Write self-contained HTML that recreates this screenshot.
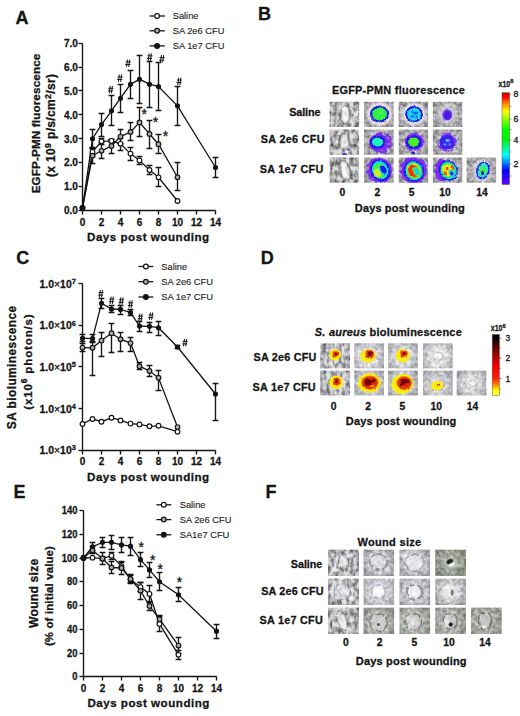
<!DOCTYPE html><html><head><meta charset="utf-8"><style>html,body{margin:0;padding:0;background:#fff;}svg{display:block;}text{font-family:"Liberation Sans",sans-serif;stroke:#141414;stroke-width:0.28px;paint-order:stroke;}</style></head><body>
<svg width="520" height="716" viewBox="0 0 520 716">
<defs>
<filter id="txA" x="0" y="0" width="100%" height="100%" color-interpolation-filters="sRGB"><feTurbulence type="fractalNoise" baseFrequency="0.26 0.18" numOctaves="3" seed="3"/><feColorMatrix type="matrix" values="2.0 0 0 0 -0.3  2.0 0 0 0 -0.3  2.0 0 0 0 -0.3  0 0 0 0 1"/><feGaussianBlur stdDeviation="0.5"/></filter>
<filter id="txB" x="0" y="0" width="100%" height="100%" color-interpolation-filters="sRGB"><feTurbulence type="fractalNoise" baseFrequency="0.3" numOctaves="2" seed="11"/><feColorMatrix type="matrix" values="1.4 0 0 0 -0.08  1.4 0 0 0 -0.08  1.4 0 0 0 -0.08  0 0 0 0 1"/><feGaussianBlur stdDeviation="0.45"/></filter>
<filter id="txC" x="0" y="0" width="100%" height="100%" color-interpolation-filters="sRGB"><feTurbulence type="fractalNoise" baseFrequency="0.28" numOctaves="3" seed="21"/><feColorMatrix type="matrix" values="1.4 0 0 0 -0.08  1.4 0 0 0 -0.08  1.4 0 0 0 -0.08  0 0 0 0 1"/><feGaussianBlur stdDeviation="0.45"/></filter>
<filter id="rough" x="-30%" y="-30%" width="160%" height="160%"><feTurbulence type="fractalNoise" baseFrequency="0.45" numOctaves="2" seed="5" result="n"/><feDisplacementMap in="SourceGraphic" in2="n" scale="2.6" xChannelSelector="R" yChannelSelector="G"/><feGaussianBlur stdDeviation="0.35"/></filter>
<filter id="rough2" x="-30%" y="-30%" width="160%" height="160%"><feTurbulence type="fractalNoise" baseFrequency="0.4" numOctaves="2" seed="9" result="n"/><feDisplacementMap in="SourceGraphic" in2="n" scale="2.4" xChannelSelector="R" yChannelSelector="G"/><feGaussianBlur stdDeviation="0.45"/></filter>
<filter id="patch" x="-30%" y="-30%" width="160%" height="160%"><feTurbulence type="fractalNoise" baseFrequency="0.3" numOctaves="2" seed="15" result="n"/><feDisplacementMap in="SourceGraphic" in2="n" scale="4" xChannelSelector="R" yChannelSelector="G" result="d"/><feTurbulence type="fractalNoise" baseFrequency="0.22" numOctaves="1" seed="4" result="m"/><feColorMatrix in="m" type="matrix" values="0 0 0 0 0  0 0 0 0 0  0 0 0 0 0  0 0 0 9 -3.25" result="mm"/><feComposite in="d" in2="mm" operator="in"/><feGaussianBlur stdDeviation="0.3"/></filter>
<filter id="rough3" x="-30%" y="-30%" width="160%" height="160%"><feTurbulence type="fractalNoise" baseFrequency="0.25" numOctaves="2" seed="19" result="n"/><feDisplacementMap in="SourceGraphic" in2="n" scale="2.2" xChannelSelector="R" yChannelSelector="G"/><feGaussianBlur stdDeviation="0.5"/></filter>
<filter id="rough4" x="-30%" y="-30%" width="160%" height="160%"><feTurbulence type="fractalNoise" baseFrequency="0.18" numOctaves="2" seed="23" result="n"/><feDisplacementMap in="SourceGraphic" in2="n" scale="3.2" xChannelSelector="R" yChannelSelector="G"/><feGaussianBlur stdDeviation="0.55"/></filter>
<filter id="blur05" x="-50%" y="-50%" width="200%" height="200%"><feGaussianBlur stdDeviation="0.5"/></filter>
<filter id="blur1" x="-50%" y="-50%" width="200%" height="200%"><feGaussianBlur stdDeviation="0.9"/></filter>
<filter id="blur2" x="-50%" y="-50%" width="200%" height="200%"><feGaussianBlur stdDeviation="2"/></filter>
<linearGradient id="cbB" x1="0" y1="0" x2="0" y2="1"><stop offset="0" stop-color="#c00000"/><stop offset="0.05" stop-color="#ff0000"/><stop offset="0.115" stop-color="#ff8000"/><stop offset="0.205" stop-color="#ffff00"/><stop offset="0.30" stop-color="#80ff00"/><stop offset="0.40" stop-color="#00ff00"/><stop offset="0.50" stop-color="#00f000"/><stop offset="0.68" stop-color="#00ffff"/><stop offset="0.85" stop-color="#0000ff"/><stop offset="1" stop-color="#6000ff"/></linearGradient>
<linearGradient id="cbD" x1="0" y1="0" x2="0" y2="1"><stop offset="0" stop-color="#000000"/><stop offset="0.08" stop-color="#100000"/><stop offset="0.3" stop-color="#900000"/><stop offset="0.5" stop-color="#f00000"/><stop offset="0.72" stop-color="#ff2000"/><stop offset="0.82" stop-color="#ff8000"/><stop offset="0.92" stop-color="#ffff00"/><stop offset="1" stop-color="#ffff30"/></linearGradient>
</defs>
<text x="15.60" y="24.20" font-size="18" font-weight="bold" text-anchor="start" fill="#141414" >A</text>
<text x="258.00" y="20.20" font-size="18" font-weight="bold" text-anchor="start" fill="#141414" >B</text>
<text x="16.20" y="263.80" font-size="18" font-weight="bold" text-anchor="start" fill="#141414" >C</text>
<text x="260.80" y="263.80" font-size="18" font-weight="bold" text-anchor="start" fill="#141414" >D</text>
<text x="13.60" y="498.30" font-size="18" font-weight="bold" text-anchor="start" fill="#141414" >E</text>
<text x="265.40" y="498.40" font-size="18" font-weight="bold" text-anchor="start" fill="#141414" >F</text>
<g stroke="#141414" stroke-width="1.35" fill="none" stroke-linecap="butt">
<path d="M82.50,43.50 V210.50 H215.50"/>
<path d="M78.50,210.50 H82.50"/>
<path d="M78.50,186.50 H82.50"/>
<path d="M78.50,162.50 H82.50"/>
<path d="M78.50,138.50 H82.50"/>
<path d="M78.50,114.50 H82.50"/>
<path d="M78.50,90.50 H82.50"/>
<path d="M78.50,67.50 H82.50"/>
<path d="M78.50,43.50 H82.50"/>
<path d="M82.50,210.50 V214.50"/>
<path d="M101.50,210.50 V214.50"/>
<path d="M120.50,210.50 V214.50"/>
<path d="M139.50,210.50 V214.50"/>
<path d="M158.50,210.50 V214.50"/>
<path d="M177.50,210.50 V214.50"/>
<path d="M196.50,210.50 V214.50"/>
<path d="M215.50,210.50 V214.50"/>
</g>
<text x="77.80" y="214.10" font-size="10" font-weight="bold" text-anchor="end" fill="#141414">0.0</text>
<text x="77.80" y="190.25" font-size="10" font-weight="bold" text-anchor="end" fill="#141414">1.0</text>
<text x="77.80" y="166.40" font-size="10" font-weight="bold" text-anchor="end" fill="#141414">2.0</text>
<text x="77.80" y="142.55" font-size="10" font-weight="bold" text-anchor="end" fill="#141414">3.0</text>
<text x="77.80" y="118.70" font-size="10" font-weight="bold" text-anchor="end" fill="#141414">4.0</text>
<text x="77.80" y="94.85" font-size="10" font-weight="bold" text-anchor="end" fill="#141414">5.0</text>
<text x="77.80" y="71.00" font-size="10" font-weight="bold" text-anchor="end" fill="#141414">6.0</text>
<text x="77.80" y="47.15" font-size="10" font-weight="bold" text-anchor="end" fill="#141414">7.0</text>
<text x="82.50" y="225.60" font-size="10" font-weight="bold" text-anchor="middle" fill="#141414">0</text>
<text x="101.50" y="225.60" font-size="10" font-weight="bold" text-anchor="middle" fill="#141414">2</text>
<text x="120.50" y="225.60" font-size="10" font-weight="bold" text-anchor="middle" fill="#141414">4</text>
<text x="139.50" y="225.60" font-size="10" font-weight="bold" text-anchor="middle" fill="#141414">6</text>
<text x="158.50" y="225.60" font-size="10" font-weight="bold" text-anchor="middle" fill="#141414">8</text>
<text x="177.50" y="225.60" font-size="10" font-weight="bold" text-anchor="middle" fill="#141414">10</text>
<text x="196.50" y="225.60" font-size="10" font-weight="bold" text-anchor="middle" fill="#141414">12</text>
<text x="215.50" y="225.60" font-size="10" font-weight="bold" text-anchor="middle" fill="#141414">14</text>
<text x="87.00" y="241.10" font-size="11.6" font-weight="bold" fill="#141414" textLength="122.2" lengthAdjust="spacing">Days post wounding</text>
<text transform="translate(40.40,123.50) rotate(-90)" x="0" y="0" font-size="11.7" font-weight="bold" text-anchor="middle" fill="#141414" textLength="139.7" lengthAdjust="spacing">EGFP-PMN fluorescence</text>
<text transform="translate(55.40,125.50) rotate(-90)" x="0" y="0" font-size="12" font-weight="bold" text-anchor="middle" fill="#141414" textLength="103" lengthAdjust="spacing">(x 10<tspan dy="-4.6" font-size="8.8">9</tspan><tspan dy="4.6"> p/s/cm</tspan><tspan dy="-4.6" font-size="8.8">2</tspan><tspan dy="4.6">/sr)</tspan></text>
<g stroke="#141414" stroke-width="1.35" fill="none">
<path d="M92.50,151.90 V156.50 M89.60,156.50 H95.40"/>
<path d="M92.50,151.90 V147.50 M89.60,147.50 H95.40"/>
<path d="M101.50,141.30 V144.50 M98.60,144.50 H104.40"/>
<path d="M101.50,141.30 V138.50 M98.60,138.50 H104.40"/>
<path d="M111.50,140.90 V142.50 M108.60,142.50 H114.40"/>
<path d="M111.50,140.90 V139.50 M108.60,139.50 H114.40"/>
<path d="M120.50,143.80 V150.50 M117.60,150.50 H123.40"/>
<path d="M120.50,143.80 V138.50 M117.60,138.50 H123.40"/>
<path d="M130.50,153.60 V160.50 M127.60,160.50 H133.40"/>
<path d="M130.50,153.60 V147.50 M127.60,147.50 H133.40"/>
<path d="M139.50,160.40 V164.50 M136.60,164.50 H142.40"/>
<path d="M139.50,160.40 V156.50 M136.60,156.50 H142.40"/>
<path d="M149.50,170.00 V174.50 M146.60,174.50 H152.40"/>
<path d="M149.50,170.00 V165.50 M146.60,165.50 H152.40"/>
<path d="M158.50,177.30 V186.50 M155.60,186.50 H161.40"/>
<path d="M158.50,177.30 V167.50 M155.60,167.50 H161.40"/>
</g>
<g stroke="#141414" stroke-width="1.35" fill="none">
<path d="M92.50,155.70 V163.50 M89.60,163.50 H95.40"/>
<path d="M92.50,155.70 V148.50 M89.60,148.50 H95.40"/>
<path d="M101.50,150.80 V158.50 M98.60,158.50 H104.40"/>
<path d="M101.50,150.80 V142.50 M98.60,142.50 H104.40"/>
<path d="M111.50,146.00 V153.50 M108.60,153.50 H114.40"/>
<path d="M111.50,146.00 V139.50 M108.60,139.50 H114.40"/>
<path d="M120.50,136.60 V143.50 M117.60,143.50 H123.40"/>
<path d="M120.50,136.60 V129.50 M117.60,129.50 H123.40"/>
<path d="M130.50,132.00 V140.50 M127.60,140.50 H133.40"/>
<path d="M130.50,132.00 V122.50 M127.60,122.50 H133.40"/>
<path d="M139.50,122.40 V136.50 M136.60,136.50 H142.40"/>
<path d="M139.50,122.40 V107.50 M136.60,107.50 H142.40"/>
<path d="M149.50,134.00 V148.50 M146.60,148.50 H152.40"/>
<path d="M149.50,134.00 V120.50 M146.60,120.50 H152.40"/>
<path d="M158.50,144.20 V153.50 M155.60,153.50 H161.40"/>
<path d="M158.50,144.20 V134.50 M155.60,134.50 H161.40"/>
<path d="M177.50,177.30 V190.50 M174.60,190.50 H180.40"/>
<path d="M177.50,177.30 V162.50 M174.60,162.50 H180.40"/>
</g>
<g stroke="#141414" stroke-width="1.35" fill="none">
<path d="M92.50,138.70 V148.50 M89.60,148.50 H95.40"/>
<path d="M92.50,138.70 V129.50 M89.60,129.50 H95.40"/>
<path d="M101.50,124.60 V136.50 M98.60,136.50 H104.40"/>
<path d="M101.50,124.60 V113.50 M98.60,113.50 H104.40"/>
<path d="M111.50,110.80 V125.50 M108.60,125.50 H114.40"/>
<path d="M111.50,110.80 V95.50 M108.60,95.50 H114.40"/>
<path d="M120.50,98.20 V112.50 M117.60,112.50 H123.40"/>
<path d="M120.50,98.20 V84.50 M117.60,84.50 H123.40"/>
<path d="M130.50,84.30 V98.50 M127.60,98.50 H133.40"/>
<path d="M130.50,84.30 V70.50 M127.60,70.50 H133.40"/>
<path d="M139.50,79.35 V103.50 M136.60,103.50 H142.40"/>
<path d="M139.50,79.35 V55.50 M136.60,55.50 H142.40"/>
<path d="M149.50,84.20 V107.50 M146.60,107.50 H152.40"/>
<path d="M149.50,84.20 V61.50 M146.60,61.50 H152.40"/>
<path d="M158.50,86.50 V110.50 M155.60,110.50 H161.40"/>
<path d="M158.50,86.50 V62.50 M155.60,62.50 H161.40"/>
<path d="M177.50,105.80 V125.50 M174.60,125.50 H180.40"/>
<path d="M177.50,105.80 V86.50 M174.60,86.50 H180.40"/>
<path d="M215.50,167.50 V177.50 M212.60,177.50 H218.40"/>
<path d="M215.50,167.50 V157.50 M212.60,157.50 H218.40"/>
</g>
<polyline points="82.50,207.80 92.50,151.90 101.50,141.30 111.50,140.90 120.50,143.80 130.50,153.60 139.50,160.40 149.50,170.00 158.50,177.30 177.50,201.00" fill="none" stroke="#141414" stroke-width="1.3"/>
<polyline points="82.50,207.80 92.50,155.70 101.50,150.80 111.50,146.00 120.50,136.60 130.50,132.00 139.50,122.40 149.50,134.00 158.50,144.20 177.50,177.30" fill="none" stroke="#141414" stroke-width="1.3"/>
<polyline points="82.50,207.80 92.50,138.70 101.50,124.60 111.50,110.80 120.50,98.20 130.50,84.30 139.50,79.35 149.50,84.20 158.50,86.50 177.50,105.80 215.50,167.50" fill="none" stroke="#141414" stroke-width="1.3"/>
<g fill="#ffffff" stroke="#141414" stroke-width="1.15">
<circle cx="82.50" cy="207.80" r="2.35"/>
<circle cx="92.50" cy="151.90" r="2.35"/>
<circle cx="101.50" cy="141.30" r="2.35"/>
<circle cx="111.50" cy="140.90" r="2.35"/>
<circle cx="120.50" cy="143.80" r="2.35"/>
<circle cx="130.50" cy="153.60" r="2.35"/>
<circle cx="139.50" cy="160.40" r="2.35"/>
<circle cx="149.50" cy="170.00" r="2.35"/>
<circle cx="158.50" cy="177.30" r="2.35"/>
<circle cx="177.50" cy="201.00" r="2.35"/>
</g>
<g fill="#ababab" stroke="#141414" stroke-width="1.15">
<circle cx="82.50" cy="207.80" r="2.35"/>
<circle cx="92.50" cy="155.70" r="2.35"/>
<circle cx="101.50" cy="150.80" r="2.35"/>
<circle cx="111.50" cy="146.00" r="2.35"/>
<circle cx="120.50" cy="136.60" r="2.35"/>
<circle cx="130.50" cy="132.00" r="2.35"/>
<circle cx="139.50" cy="122.40" r="2.35"/>
<circle cx="149.50" cy="134.00" r="2.35"/>
<circle cx="158.50" cy="144.20" r="2.35"/>
<circle cx="177.50" cy="177.30" r="2.35"/>
</g>
<g fill="#141414" stroke="#141414" stroke-width="1.15">
<circle cx="82.50" cy="207.80" r="2.0"/>
<circle cx="92.50" cy="138.70" r="2.0"/>
<circle cx="101.50" cy="124.60" r="2.0"/>
<circle cx="111.50" cy="110.80" r="2.0"/>
<circle cx="120.50" cy="98.20" r="2.0"/>
<circle cx="130.50" cy="84.30" r="2.0"/>
<circle cx="139.50" cy="79.35" r="2.0"/>
<circle cx="149.50" cy="84.20" r="2.0"/>
<circle cx="158.50" cy="86.50" r="2.0"/>
<circle cx="177.50" cy="105.80" r="2.0"/>
<circle cx="215.50" cy="167.50" r="2.0"/>
</g>
<path d="M110.20,85.90 L109.20,93.30 M112.40,85.90 L111.40,93.30 M108.40,88.35 H113.40 M108.00,90.90 H113.00" stroke="#141414" stroke-width="1.0" fill="none"/>
<path d="M119.40,74.50 L118.40,81.90 M121.60,74.50 L120.60,81.90 M117.60,76.95 H122.60 M117.20,79.50 H122.20" stroke="#141414" stroke-width="1.0" fill="none"/>
<path d="M127.50,59.50 L126.50,66.90 M129.70,59.50 L128.70,66.90 M125.70,61.95 H130.70 M125.30,64.50 H130.30" stroke="#141414" stroke-width="1.0" fill="none"/>
<path d="M149.20,53.40 L148.20,60.80 M151.40,53.40 L150.40,60.80 M147.40,55.85 H152.40 M147.00,58.40 H152.00" stroke="#141414" stroke-width="1.0" fill="none"/>
<path d="M161.40,55.10 L160.40,62.50 M163.60,55.10 L162.60,62.50 M159.60,57.55 H164.60 M159.20,60.10 H164.20" stroke="#141414" stroke-width="1.0" fill="none"/>
<path d="M178.70,77.60 L177.70,85.00 M180.90,77.60 L179.90,85.00 M176.90,80.05 H181.90 M176.50,82.60 H181.50" stroke="#141414" stroke-width="1.0" fill="none"/>
<text x="144.20" y="119.00" font-size="14" font-weight="normal" text-anchor="middle" fill="#141414">*</text>
<text x="155.40" y="126.70" font-size="14" font-weight="normal" text-anchor="middle" fill="#141414">*</text>
<text x="165.40" y="141.30" font-size="14" font-weight="normal" text-anchor="middle" fill="#141414">*</text>
<path d="M149.60,16.00 H164.80" stroke="#141414" stroke-width="1.3"/>
<circle cx="157.10" cy="16.00" r="2.4" fill="#ffffff" stroke="#141414" stroke-width="1.2"/>
<text x="172.70" y="19.20" font-size="9.3" font-weight="normal" fill="#202020" style="stroke-width:0.12px">Saline</text>
<path d="M149.60,30.80 H164.80" stroke="#141414" stroke-width="1.3"/>
<circle cx="157.10" cy="30.80" r="2.4" fill="#ababab" stroke="#141414" stroke-width="1.2"/>
<text x="172.70" y="34.00" font-size="9.3" font-weight="normal" fill="#202020" style="stroke-width:0.12px">SA 2e6 CFU</text>
<path d="M149.60,45.90 H164.80" stroke="#141414" stroke-width="1.3"/>
<circle cx="157.10" cy="45.90" r="2.4" fill="#141414" stroke="#141414" stroke-width="1.2"/>
<text x="172.70" y="49.10" font-size="9.3" font-weight="normal" fill="#202020" style="stroke-width:0.12px">SA 1e7 CFU</text>
<g stroke="#141414" stroke-width="1.35" fill="none" stroke-linecap="butt">
<path d="M82.50,283.50 V450.50 H215.50"/>
<path d="M78.50,283.50 H82.50"/>
<path d="M78.50,325.50 H82.50"/>
<path d="M78.50,366.50 H82.50"/>
<path d="M78.50,408.50 H82.50"/>
<path d="M78.50,450.50 H82.50"/>
<path d="M82.50,450.50 V454.50"/>
<path d="M101.50,450.50 V454.50"/>
<path d="M120.50,450.50 V454.50"/>
<path d="M139.50,450.50 V454.50"/>
<path d="M158.50,450.50 V454.50"/>
<path d="M177.50,450.50 V454.50"/>
<path d="M196.50,450.50 V454.50"/>
<path d="M215.50,450.50 V454.50"/>
</g>
<text x="75.80" y="287.80" font-size="10.4" font-weight="bold" text-anchor="end" fill="#141414">1.0<tspan font-weight="normal">×</tspan>10<tspan dy="-3.9" font-size="7.4">7</tspan></text>
<text x="75.80" y="329.43" font-size="10.4" font-weight="bold" text-anchor="end" fill="#141414">1.0<tspan font-weight="normal">×</tspan>10<tspan dy="-3.9" font-size="7.4">6</tspan></text>
<text x="75.80" y="371.05" font-size="10.4" font-weight="bold" text-anchor="end" fill="#141414">1.0<tspan font-weight="normal">×</tspan>10<tspan dy="-3.9" font-size="7.4">5</tspan></text>
<text x="75.80" y="412.68" font-size="10.4" font-weight="bold" text-anchor="end" fill="#141414">1.0<tspan font-weight="normal">×</tspan>10<tspan dy="-3.9" font-size="7.4">4</tspan></text>
<text x="75.80" y="454.30" font-size="10.4" font-weight="bold" text-anchor="end" fill="#141414">1.0<tspan font-weight="normal">×</tspan>10<tspan dy="-3.9" font-size="7.4">3</tspan></text>
<text x="82.50" y="465.00" font-size="10" font-weight="bold" text-anchor="middle" fill="#141414">0</text>
<text x="101.50" y="465.00" font-size="10" font-weight="bold" text-anchor="middle" fill="#141414">2</text>
<text x="120.50" y="465.00" font-size="10" font-weight="bold" text-anchor="middle" fill="#141414">4</text>
<text x="139.50" y="465.00" font-size="10" font-weight="bold" text-anchor="middle" fill="#141414">6</text>
<text x="158.50" y="465.00" font-size="10" font-weight="bold" text-anchor="middle" fill="#141414">8</text>
<text x="177.50" y="465.00" font-size="10" font-weight="bold" text-anchor="middle" fill="#141414">10</text>
<text x="196.50" y="465.00" font-size="10" font-weight="bold" text-anchor="middle" fill="#141414">12</text>
<text x="215.50" y="465.00" font-size="10" font-weight="bold" text-anchor="middle" fill="#141414">14</text>
<text x="87.00" y="481.10" font-size="11.6" font-weight="bold" fill="#141414" textLength="122.2" lengthAdjust="spacing">Days post wounding</text>
<text transform="translate(15.80,367.50) rotate(-90)" x="0" y="0" font-size="11.9" font-weight="bold" text-anchor="middle" fill="#141414" textLength="123.4" lengthAdjust="spacing">SA bioluminescence</text>
<text transform="translate(32.20,362.00) rotate(-90)" x="0" y="0" font-size="11.6" font-weight="bold" text-anchor="middle" fill="#141414" textLength="95.5" lengthAdjust="spacing">(x10<tspan dy="-5" font-size="8.5">6</tspan><tspan dy="5"> photon/s)</tspan></text>
<g stroke="#141414" stroke-width="1.35" fill="none">
</g>
<g stroke="#141414" stroke-width="1.35" fill="none">
<path d="M82.50,347.60 V351.50 M79.60,351.50 H85.40"/>
<path d="M82.50,347.60 V343.50 M79.60,343.50 H85.40"/>
<path d="M92.50,347.80 V375.50 M89.60,375.50 H95.40"/>
<path d="M92.50,347.80 V341.50 M89.60,341.50 H95.40"/>
<path d="M101.50,340.60 V356.50 M98.60,356.50 H104.40"/>
<path d="M101.50,340.60 V332.50 M98.60,332.50 H104.40"/>
<path d="M111.50,333.20 V352.50 M108.60,352.50 H114.40"/>
<path d="M111.50,333.20 V323.50 M108.60,323.50 H114.40"/>
<path d="M120.50,339.20 V351.50 M117.60,351.50 H123.40"/>
<path d="M120.50,339.20 V332.50 M117.60,332.50 H123.40"/>
<path d="M130.50,343.10 V351.50 M127.60,351.50 H133.40"/>
<path d="M130.50,343.10 V337.50 M127.60,337.50 H133.40"/>
<path d="M139.50,366.20 V369.50 M136.60,369.50 H142.40"/>
<path d="M139.50,366.20 V362.50 M136.60,362.50 H142.40"/>
<path d="M149.50,371.00 V376.50 M146.60,376.50 H152.40"/>
<path d="M149.50,371.00 V365.50 M146.60,365.50 H152.40"/>
<path d="M158.50,377.80 V390.50 M155.60,390.50 H161.40"/>
<path d="M158.50,377.80 V370.50 M155.60,370.50 H161.40"/>
</g>
<g stroke="#141414" stroke-width="1.35" fill="none">
<path d="M82.50,338.20 V341.50 M79.60,341.50 H85.40"/>
<path d="M82.50,338.20 V334.50 M79.60,334.50 H85.40"/>
<path d="M92.50,338.60 V342.50 M89.60,342.50 H95.40"/>
<path d="M92.50,338.60 V334.50 M89.60,334.50 H95.40"/>
<path d="M101.50,303.30 V308.50 M98.60,308.50 H104.40"/>
<path d="M101.50,303.30 V298.50 M98.60,298.50 H104.40"/>
<path d="M111.50,309.00 V312.50 M108.60,312.50 H114.40"/>
<path d="M111.50,309.00 V305.50 M108.60,305.50 H114.40"/>
<path d="M120.50,309.40 V314.50 M117.60,314.50 H123.40"/>
<path d="M120.50,309.40 V305.50 M117.60,305.50 H123.40"/>
<path d="M130.50,312.50 V315.50 M127.60,315.50 H133.40"/>
<path d="M130.50,312.50 V309.50 M127.60,309.50 H133.40"/>
<path d="M139.50,326.00 V331.50 M136.60,331.50 H142.40"/>
<path d="M139.50,326.00 V321.50 M136.60,321.50 H142.40"/>
<path d="M149.50,326.30 V332.50 M146.60,332.50 H152.40"/>
<path d="M149.50,326.30 V322.50 M146.60,322.50 H152.40"/>
<path d="M158.50,327.70 V335.50 M155.60,335.50 H161.40"/>
<path d="M158.50,327.70 V321.50 M155.60,321.50 H161.40"/>
<path d="M177.50,347.00 V348.50 M174.60,348.50 H180.40"/>
<path d="M177.50,347.00 V345.50 M174.60,345.50 H180.40"/>
<path d="M215.50,394.00 V420.50 M212.60,420.50 H218.40"/>
<path d="M215.50,394.00 V383.50 M212.60,383.50 H218.40"/>
</g>
<polyline points="82.50,423.90 92.50,419.00 101.50,421.70 111.50,417.70 120.50,420.40 130.50,423.60 139.50,424.40 149.50,426.30 158.50,425.80 177.50,431.70" fill="none" stroke="#141414" stroke-width="1.3"/>
<polyline points="82.50,347.60 92.50,347.80 101.50,340.60 111.50,333.20 120.50,339.20 130.50,343.10 139.50,366.20 149.50,371.00 158.50,377.80 177.50,427.10" fill="none" stroke="#141414" stroke-width="1.3"/>
<polyline points="82.50,338.20 92.50,338.60 101.50,303.30 111.50,309.00 120.50,309.40 130.50,312.50 139.50,326.00 149.50,326.30 158.50,327.70 177.50,347.00 215.50,394.00" fill="none" stroke="#141414" stroke-width="1.3"/>
<g fill="#ffffff" stroke="#141414" stroke-width="1.15">
<circle cx="82.50" cy="423.90" r="2.35"/>
<circle cx="92.50" cy="419.00" r="2.35"/>
<circle cx="101.50" cy="421.70" r="2.35"/>
<circle cx="111.50" cy="417.70" r="2.35"/>
<circle cx="120.50" cy="420.40" r="2.35"/>
<circle cx="130.50" cy="423.60" r="2.35"/>
<circle cx="139.50" cy="424.40" r="2.35"/>
<circle cx="149.50" cy="426.30" r="2.35"/>
<circle cx="158.50" cy="425.80" r="2.35"/>
<circle cx="177.50" cy="431.70" r="2.35"/>
</g>
<g fill="#ababab" stroke="#141414" stroke-width="1.15">
<circle cx="82.50" cy="347.60" r="2.35"/>
<circle cx="92.50" cy="347.80" r="2.35"/>
<circle cx="101.50" cy="340.60" r="2.35"/>
<circle cx="111.50" cy="333.20" r="2.35"/>
<circle cx="120.50" cy="339.20" r="2.35"/>
<circle cx="130.50" cy="343.10" r="2.35"/>
<circle cx="139.50" cy="366.20" r="2.35"/>
<circle cx="149.50" cy="371.00" r="2.35"/>
<circle cx="158.50" cy="377.80" r="2.35"/>
<circle cx="177.50" cy="427.10" r="2.35"/>
</g>
<g fill="#141414" stroke="#141414" stroke-width="1.15">
<circle cx="82.50" cy="338.20" r="2.0"/>
<circle cx="92.50" cy="338.60" r="2.0"/>
<circle cx="101.50" cy="303.30" r="2.0"/>
<circle cx="111.50" cy="309.00" r="2.0"/>
<circle cx="120.50" cy="309.40" r="2.0"/>
<circle cx="130.50" cy="312.50" r="2.0"/>
<circle cx="139.50" cy="326.00" r="2.0"/>
<circle cx="149.50" cy="326.30" r="2.0"/>
<circle cx="158.50" cy="327.70" r="2.0"/>
<circle cx="177.50" cy="347.00" r="2.0"/>
<circle cx="215.50" cy="394.00" r="2.0"/>
</g>
<path d="M100.30,290.10 L99.30,297.50 M102.50,290.10 L101.50,297.50 M98.50,292.55 H103.50 M98.10,295.10 H103.10" stroke="#141414" stroke-width="1.0" fill="none"/>
<path d="M111.10,296.60 L110.10,304.00 M113.30,296.60 L112.30,304.00 M109.30,299.05 H114.30 M108.90,301.60 H113.90" stroke="#141414" stroke-width="1.0" fill="none"/>
<path d="M120.80,297.30 L119.80,304.70 M123.00,297.30 L122.00,304.70 M119.00,299.75 H124.00 M118.60,302.30 H123.60" stroke="#141414" stroke-width="1.0" fill="none"/>
<path d="M130.00,300.40 L129.00,307.80 M132.20,300.40 L131.20,307.80 M128.20,302.85 H133.20 M127.80,305.40 H132.80" stroke="#141414" stroke-width="1.0" fill="none"/>
<path d="M139.90,313.70 L138.90,321.10 M142.10,313.70 L141.10,321.10 M138.10,316.15 H143.10 M137.70,318.70 H142.70" stroke="#141414" stroke-width="1.0" fill="none"/>
<path d="M150.40,312.50 L149.40,319.90 M152.60,312.50 L151.60,319.90 M148.60,314.95 H153.60 M148.20,317.50 H153.20" stroke="#141414" stroke-width="1.0" fill="none"/>
<path d="M184.50,338.90 L183.50,346.30 M186.70,338.90 L185.70,346.30 M182.70,341.35 H187.70 M182.30,343.90 H187.30" stroke="#141414" stroke-width="1.0" fill="none"/>
<path d="M138.50,266.50 H153.30" stroke="#141414" stroke-width="1.3"/>
<circle cx="145.90" cy="266.50" r="2.4" fill="#ffffff" stroke="#141414" stroke-width="1.2"/>
<text x="161.30" y="269.70" font-size="9.3" font-weight="normal" fill="#202020" style="stroke-width:0.12px">Saline</text>
<path d="M138.50,281.70 H153.30" stroke="#141414" stroke-width="1.3"/>
<circle cx="145.90" cy="281.70" r="2.4" fill="#ababab" stroke="#141414" stroke-width="1.2"/>
<text x="161.30" y="284.90" font-size="9.3" font-weight="normal" fill="#202020" style="stroke-width:0.12px">SA 2e6 CFU</text>
<path d="M138.50,297.00 H153.30" stroke="#141414" stroke-width="1.3"/>
<circle cx="145.90" cy="297.00" r="2.4" fill="#141414" stroke="#141414" stroke-width="1.2"/>
<text x="161.30" y="300.20" font-size="9.3" font-weight="normal" fill="#202020" style="stroke-width:0.12px">SA 1e7 CFU</text>
<g stroke="#141414" stroke-width="1.35" fill="none" stroke-linecap="butt">
<path d="M83.50,510.50 V676.50 H216.50"/>
<path d="M79.50,676.50 H83.50"/>
<path d="M79.50,653.50 H83.50"/>
<path d="M79.50,629.50 H83.50"/>
<path d="M79.50,605.50 H83.50"/>
<path d="M79.50,581.50 H83.50"/>
<path d="M79.50,558.50 H83.50"/>
<path d="M79.50,534.50 H83.50"/>
<path d="M79.50,510.50 H83.50"/>
<path d="M83.50,676.50 V680.50"/>
<path d="M102.50,676.50 V680.50"/>
<path d="M121.50,676.50 V680.50"/>
<path d="M140.50,676.50 V680.50"/>
<path d="M159.50,676.50 V680.50"/>
<path d="M178.50,676.50 V680.50"/>
<path d="M197.50,676.50 V680.50"/>
<path d="M216.50,676.50 V680.50"/>
</g>
<text x="77.50" y="680.40" font-size="10.6" font-weight="bold" text-anchor="end" fill="#141414" textLength="5.25" lengthAdjust="spacingAndGlyphs">0</text>
<text x="77.50" y="656.64" font-size="10.6" font-weight="bold" text-anchor="end" fill="#141414" textLength="10.5" lengthAdjust="spacingAndGlyphs">20</text>
<text x="77.50" y="632.88" font-size="10.6" font-weight="bold" text-anchor="end" fill="#141414" textLength="10.5" lengthAdjust="spacingAndGlyphs">40</text>
<text x="77.50" y="609.13" font-size="10.6" font-weight="bold" text-anchor="end" fill="#141414" textLength="10.5" lengthAdjust="spacingAndGlyphs">60</text>
<text x="77.50" y="585.37" font-size="10.6" font-weight="bold" text-anchor="end" fill="#141414" textLength="10.5" lengthAdjust="spacingAndGlyphs">80</text>
<text x="77.50" y="561.61" font-size="10.6" font-weight="bold" text-anchor="end" fill="#141414" textLength="15.75" lengthAdjust="spacingAndGlyphs">100</text>
<text x="77.50" y="537.85" font-size="10.6" font-weight="bold" text-anchor="end" fill="#141414" textLength="15.75" lengthAdjust="spacingAndGlyphs">120</text>
<text x="77.50" y="514.09" font-size="10.6" font-weight="bold" text-anchor="end" fill="#141414" textLength="15.75" lengthAdjust="spacingAndGlyphs">140</text>
<text x="83.50" y="691.80" font-size="10" font-weight="bold" text-anchor="middle" fill="#141414">0</text>
<text x="102.50" y="691.80" font-size="10" font-weight="bold" text-anchor="middle" fill="#141414">2</text>
<text x="121.50" y="691.80" font-size="10" font-weight="bold" text-anchor="middle" fill="#141414">4</text>
<text x="140.50" y="691.80" font-size="10" font-weight="bold" text-anchor="middle" fill="#141414">6</text>
<text x="159.50" y="691.80" font-size="10" font-weight="bold" text-anchor="middle" fill="#141414">8</text>
<text x="178.50" y="691.80" font-size="10" font-weight="bold" text-anchor="middle" fill="#141414">10</text>
<text x="197.50" y="691.80" font-size="10" font-weight="bold" text-anchor="middle" fill="#141414">12</text>
<text x="216.50" y="691.80" font-size="10" font-weight="bold" text-anchor="middle" fill="#141414">14</text>
<text x="87.40" y="707.40" font-size="11.6" font-weight="bold" fill="#141414" textLength="122" lengthAdjust="spacing">Days post wounding</text>
<text transform="translate(37.80,593.40) rotate(-90)" x="0" y="0" font-size="12.2" font-weight="bold" text-anchor="middle" fill="#141414" textLength="69.2" lengthAdjust="spacing">Wound size</text>
<text transform="translate(53.00,596.10) rotate(-90)" x="0" y="0" font-size="11.4" font-weight="bold" text-anchor="middle" fill="#141414" textLength="100" lengthAdjust="spacing">(% of initial value)</text>
<g stroke="#141414" stroke-width="1.35" fill="none">
<path d="M102.50,558.60 V560.50 M99.60,560.50 H105.40"/>
<path d="M102.50,558.60 V556.50 M99.60,556.50 H105.40"/>
<path d="M111.50,555.63 V559.50 M108.60,559.50 H114.40"/>
<path d="M111.50,555.63 V552.50 M108.60,552.50 H114.40"/>
<path d="M121.50,566.33 V569.50 M118.60,569.50 H124.40"/>
<path d="M121.50,566.33 V562.50 M118.60,562.50 H124.40"/>
<path d="M130.50,579.39 V582.50 M127.60,582.50 H133.40"/>
<path d="M130.50,579.39 V575.50 M127.60,575.50 H133.40"/>
<path d="M140.50,587.11 V591.50 M137.60,591.50 H143.40"/>
<path d="M140.50,587.11 V582.50 M137.60,582.50 H143.40"/>
<path d="M149.50,593.88 V602.50 M146.60,602.50 H152.40"/>
<path d="M149.50,593.88 V585.50 M146.60,585.50 H152.40"/>
<path d="M159.50,623.94 V631.50 M156.60,631.50 H162.40"/>
<path d="M159.50,623.94 V616.50 M156.60,616.50 H162.40"/>
<path d="M178.50,654.82 V659.50 M175.60,659.50 H181.40"/>
<path d="M178.50,654.82 V650.50 M175.60,650.50 H181.40"/>
</g>
<g stroke="#141414" stroke-width="1.35" fill="none">
<path d="M92.50,550.29 V553.50 M89.60,553.50 H95.40"/>
<path d="M92.50,550.29 V546.50 M89.60,546.50 H95.40"/>
<path d="M102.50,558.60 V564.50 M99.60,564.50 H105.40"/>
<path d="M102.50,558.60 V552.50 M99.60,552.50 H105.40"/>
<path d="M111.50,567.51 V573.50 M108.60,573.50 H114.40"/>
<path d="M111.50,567.51 V561.50 M108.60,561.50 H114.40"/>
<path d="M121.50,567.99 V574.50 M118.60,574.50 H124.40"/>
<path d="M121.50,567.99 V561.50 M118.60,561.50 H124.40"/>
<path d="M130.50,578.92 V583.50 M127.60,583.50 H133.40"/>
<path d="M130.50,578.92 V574.50 M127.60,574.50 H133.40"/>
<path d="M140.50,590.80 V599.50 M137.60,599.50 H143.40"/>
<path d="M140.50,590.80 V582.50 M137.60,582.50 H143.40"/>
<path d="M149.50,606.00 V610.50 M146.60,610.50 H152.40"/>
<path d="M149.50,606.00 V601.50 M146.60,601.50 H152.40"/>
<path d="M159.50,619.19 V622.50 M156.60,622.50 H162.40"/>
<path d="M159.50,619.19 V615.50 M156.60,615.50 H162.40"/>
<path d="M178.50,645.56 V653.50 M175.60,653.50 H181.40"/>
<path d="M178.50,645.56 V637.50 M175.60,637.50 H181.40"/>
</g>
<g stroke="#141414" stroke-width="1.35" fill="none">
<path d="M92.50,546.72 V550.50 M89.60,550.50 H95.40"/>
<path d="M92.50,546.72 V542.50 M89.60,542.50 H95.40"/>
<path d="M102.50,542.33 V547.50 M99.60,547.50 H105.40"/>
<path d="M102.50,542.33 V537.50 M99.60,537.50 H105.40"/>
<path d="M111.50,542.33 V549.50 M108.60,549.50 H114.40"/>
<path d="M111.50,542.33 V535.50 M108.60,535.50 H114.40"/>
<path d="M121.50,544.94 V552.50 M118.60,552.50 H124.40"/>
<path d="M121.50,544.94 V537.50 M118.60,537.50 H124.40"/>
<path d="M130.50,546.13 V555.50 M127.60,555.50 H133.40"/>
<path d="M130.50,546.13 V537.50 M127.60,537.50 H133.40"/>
<path d="M140.50,559.67 V566.50 M137.60,566.50 H143.40"/>
<path d="M140.50,559.67 V552.50 M137.60,552.50 H143.40"/>
<path d="M149.50,569.89 V577.50 M146.60,577.50 H152.40"/>
<path d="M149.50,569.89 V562.50 M146.60,562.50 H152.40"/>
<path d="M159.50,581.77 V590.50 M156.60,590.50 H162.40"/>
<path d="M159.50,581.77 V572.50 M156.60,572.50 H162.40"/>
<path d="M178.50,594.83 V601.50 M175.60,601.50 H181.40"/>
<path d="M178.50,594.83 V587.50 M175.60,587.50 H181.40"/>
<path d="M216.50,631.18 V638.50 M213.60,638.50 H219.40"/>
<path d="M216.50,631.18 V624.50 M213.60,624.50 H219.40"/>
</g>
<polyline points="83.50,558.01 92.50,557.65 102.50,558.60 111.50,555.63 121.50,566.33 130.50,579.39 140.50,587.11 149.50,593.88 159.50,623.94 178.50,654.82" fill="none" stroke="#141414" stroke-width="1.3"/>
<polyline points="83.50,558.01 92.50,550.29 102.50,558.60 111.50,567.51 121.50,567.99 130.50,578.92 140.50,590.80 149.50,606.00 159.50,619.19 178.50,645.56" fill="none" stroke="#141414" stroke-width="1.3"/>
<polyline points="83.50,558.01 92.50,546.72 102.50,542.33 111.50,542.33 121.50,544.94 130.50,546.13 140.50,559.67 149.50,569.89 159.50,581.77 178.50,594.83 216.50,631.18" fill="none" stroke="#141414" stroke-width="1.3"/>
<g fill="#ffffff" stroke="#141414" stroke-width="1.15">
<circle cx="83.50" cy="558.01" r="2.35"/>
<circle cx="92.50" cy="557.65" r="2.35"/>
<circle cx="102.50" cy="558.60" r="2.35"/>
<circle cx="111.50" cy="555.63" r="2.35"/>
<circle cx="121.50" cy="566.33" r="2.35"/>
<circle cx="130.50" cy="579.39" r="2.35"/>
<circle cx="140.50" cy="587.11" r="2.35"/>
<circle cx="149.50" cy="593.88" r="2.35"/>
<circle cx="159.50" cy="623.94" r="2.35"/>
<circle cx="178.50" cy="654.82" r="2.35"/>
</g>
<g fill="#ababab" stroke="#141414" stroke-width="1.15">
<circle cx="83.50" cy="558.01" r="2.35"/>
<circle cx="92.50" cy="550.29" r="2.35"/>
<circle cx="102.50" cy="558.60" r="2.35"/>
<circle cx="111.50" cy="567.51" r="2.35"/>
<circle cx="121.50" cy="567.99" r="2.35"/>
<circle cx="130.50" cy="578.92" r="2.35"/>
<circle cx="140.50" cy="590.80" r="2.35"/>
<circle cx="149.50" cy="606.00" r="2.35"/>
<circle cx="159.50" cy="619.19" r="2.35"/>
<circle cx="178.50" cy="645.56" r="2.35"/>
</g>
<g fill="#141414" stroke="#141414" stroke-width="1.15">
<circle cx="83.50" cy="558.01" r="2.0"/>
<circle cx="92.50" cy="546.72" r="2.0"/>
<circle cx="102.50" cy="542.33" r="2.0"/>
<circle cx="111.50" cy="542.33" r="2.0"/>
<circle cx="121.50" cy="544.94" r="2.0"/>
<circle cx="130.50" cy="546.13" r="2.0"/>
<circle cx="140.50" cy="559.67" r="2.0"/>
<circle cx="149.50" cy="569.89" r="2.0"/>
<circle cx="159.50" cy="581.77" r="2.0"/>
<circle cx="178.50" cy="594.83" r="2.0"/>
<circle cx="216.50" cy="631.18" r="2.0"/>
</g>
<text x="141.25" y="552.30" font-size="14" font-weight="normal" text-anchor="middle" fill="#141414">*</text>
<text x="152.80" y="564.80" font-size="14" font-weight="normal" text-anchor="middle" fill="#141414">*</text>
<text x="160.20" y="573.90" font-size="14" font-weight="normal" text-anchor="middle" fill="#141414">*</text>
<text x="179.40" y="586.90" font-size="14" font-weight="normal" text-anchor="middle" fill="#141414">*</text>
<path d="M156.40,504.80 H171.30" stroke="#141414" stroke-width="1.3"/>
<circle cx="163.80" cy="504.80" r="2.4" fill="#ffffff" stroke="#141414" stroke-width="1.2"/>
<text x="179.70" y="508.00" font-size="9.3" font-weight="normal" fill="#202020" style="stroke-width:0.12px">Saline</text>
<path d="M156.40,519.60 H171.30" stroke="#141414" stroke-width="1.3"/>
<circle cx="163.80" cy="519.60" r="2.4" fill="#ababab" stroke="#141414" stroke-width="1.2"/>
<text x="179.70" y="522.80" font-size="9.3" font-weight="normal" fill="#202020" style="stroke-width:0.12px">SA 2e6 CFU</text>
<path d="M156.40,534.80 H171.30" stroke="#141414" stroke-width="1.3"/>
<circle cx="163.80" cy="534.80" r="2.4" fill="#141414" stroke="#141414" stroke-width="1.2"/>
<text x="179.70" y="538.00" font-size="9.3" font-weight="normal" fill="#202020" style="stroke-width:0.12px">SA1e7 CFU</text>
<text x="331.90" y="94.30" font-size="10.9" font-weight="bold" text-anchor="start" fill="#141414" textLength="133" lengthAdjust="spacing">EGFP-PMN fluorescence</text>
<text x="289.20" y="115.60" font-size="10.8" font-weight="bold" text-anchor="start" fill="#141414" textLength="31.3" lengthAdjust="spacing">Saline</text>
<text x="260.80" y="143.10" font-size="10.8" font-weight="bold" text-anchor="start" fill="#141414" textLength="63.8" lengthAdjust="spacing">SA 2e6 CFU</text>
<text x="259.70" y="173.40" font-size="10.8" font-weight="bold" text-anchor="start" fill="#141414" textLength="63.6" lengthAdjust="spacing">SA 1e7 CFU</text>
<clipPath id="c1"><rect x="329.60" y="101.70" width="29.60" height="25.30"/></clipPath>
<g clip-path="url(#c1)">
<defs><radialGradient id="g1" gradientUnits="userSpaceOnUse" cx="345.60" cy="114.70" r="16"><stop offset="0" stop-color="#c8c8cc"/><stop offset="0.55" stop-color="#c8c8cc"/><stop offset="1" stop-color="#909094"/></radialGradient></defs>
<rect x="329.60" y="101.70" width="29.60" height="25.30" fill="url(#g1)"/>
<rect x="329.60" y="101.70" width="29.60" height="25.30" filter="url(#txA)" opacity="0.6"/>
<g transform="translate(329.60,101.70)">
<g filter="url(#rough3)" opacity="0.45"><ellipse cx="15.5" cy="13" rx="5" ry="9" fill="none" stroke="#505050" stroke-width="1.3"/></g>
<ellipse cx="15.5" cy="13" rx="4" ry="8" fill="#ffffff" opacity="0.75" filter="url(#blur1)"/>
<ellipse cx="9" cy="6" rx="3" ry="2" fill="#ffffff" opacity="0.6" filter="url(#blur1)"/>
<ellipse cx="23" cy="19" rx="3" ry="3" fill="#ffffff" opacity="0.5" filter="url(#blur1)"/>
<ellipse cx="11" cy="14" rx="1.2" ry="6" fill="#505050" opacity="0.4" filter="url(#blur05)" transform="rotate(10 11 14)"/>
<ellipse cx="20" cy="12" rx="1.2" ry="6" fill="#505050" opacity="0.35" filter="url(#blur05)" transform="rotate(-10 20 12)"/>
</g>
</g>
<clipPath id="c2"><rect x="364.10" y="101.70" width="29.60" height="25.30"/></clipPath>
<g clip-path="url(#c2)">
<defs><radialGradient id="g2" gradientUnits="userSpaceOnUse" cx="379.10" cy="114.70" r="17"><stop offset="0" stop-color="#c8c8cc"/><stop offset="0.55" stop-color="#c8c8cc"/><stop offset="1" stop-color="#929298"/></radialGradient></defs>
<rect x="364.10" y="101.70" width="29.60" height="25.30" fill="url(#g2)"/>
<rect x="364.10" y="101.70" width="29.60" height="25.30" filter="url(#txC)" opacity="0.45"/>
<g transform="translate(364.10,101.70)">
<ellipse cx="15.5" cy="12.4" rx="12.5" ry="11.5" fill="#f4e6f6" opacity="0.85" filter="url(#blur1)"/>
<g filter="url(#rough)"><ellipse cx="15.5" cy="12.3" rx="9.6" ry="8.6" fill="#1a14e6" opacity="1"/><ellipse cx="15.5" cy="12.3" rx="7.4" ry="6.5" fill="#30f040" opacity="1"/><ellipse cx="17.5" cy="10.5" rx="2.5" ry="2" fill="#50f060" opacity="1"/></g>
</g>
</g>
<clipPath id="c3"><rect x="398.60" y="101.70" width="29.60" height="25.30"/></clipPath>
<g clip-path="url(#c3)">
<defs><radialGradient id="g3" gradientUnits="userSpaceOnUse" cx="413.60" cy="114.70" r="17"><stop offset="0" stop-color="#c8c8cc"/><stop offset="0.55" stop-color="#c8c8cc"/><stop offset="1" stop-color="#929298"/></radialGradient></defs>
<rect x="398.60" y="101.70" width="29.60" height="25.30" fill="url(#g3)"/>
<rect x="398.60" y="101.70" width="29.60" height="25.30" filter="url(#txC)" opacity="0.45"/>
<g transform="translate(398.60,101.70)">
<ellipse cx="15.4" cy="12.6" rx="11.5" ry="10.8" fill="#ece8f6" opacity="0.85" filter="url(#blur1)"/>
<g filter="url(#rough)"><ellipse cx="15.4" cy="12.6" rx="8.8" ry="8.2" fill="#1a14e6" opacity="1"/><ellipse cx="15.4" cy="12.6" rx="6.9" ry="6.4" fill="#18d8f4" opacity="1"/><ellipse cx="17" cy="11.5" rx="2.2" ry="1.6" fill="#2060e8" opacity="1"/><ellipse cx="13.5" cy="14.8" rx="2" ry="1.3" fill="#2060e8" opacity="1"/><ellipse cx="14" cy="10" rx="1.2" ry="1.2" fill="#3070e8" opacity="1"/><ellipse cx="18" cy="15" rx="1.2" ry="1.5" fill="#3070e8" opacity="1"/></g>
</g>
</g>
<clipPath id="c4"><rect x="432.80" y="101.70" width="29.60" height="25.30"/></clipPath>
<g clip-path="url(#c4)">
<defs><radialGradient id="g4" gradientUnits="userSpaceOnUse" cx="447.80" cy="114.70" r="17"><stop offset="0" stop-color="#c8c8cc"/><stop offset="0.55" stop-color="#c8c8cc"/><stop offset="1" stop-color="#929298"/></radialGradient></defs>
<rect x="432.80" y="101.70" width="29.60" height="25.30" fill="url(#g4)"/>
<rect x="432.80" y="101.70" width="29.60" height="25.30" filter="url(#txC)" opacity="0.45"/>
<g transform="translate(432.80,101.70)">
<ellipse cx="14.5" cy="13" rx="8" ry="9" fill="#e0e0e8" opacity="0.6" filter="url(#blur2)"/>
<g filter="url(#rough)"><ellipse cx="14.5" cy="13" rx="5" ry="6" fill="#8050f0" opacity="1"/><ellipse cx="14.5" cy="13.5" rx="3.8" ry="4.5" fill="#4a18e8" opacity="1"/></g>
</g>
</g>
<clipPath id="c5"><rect x="329.60" y="129.50" width="29.60" height="25.30"/></clipPath>
<g clip-path="url(#c5)">
<defs><radialGradient id="g5" gradientUnits="userSpaceOnUse" cx="344.60" cy="142.50" r="16"><stop offset="0" stop-color="#c0c0c4"/><stop offset="0.55" stop-color="#c0c0c4"/><stop offset="1" stop-color="#8c8c90"/></radialGradient></defs>
<rect x="329.60" y="129.50" width="29.60" height="25.30" fill="url(#g5)"/>
<rect x="329.60" y="129.50" width="29.60" height="25.30" filter="url(#txA)" opacity="0.6"/>
<g transform="translate(329.60,129.50)">
<g filter="url(#rough3)" opacity="0.45"><ellipse cx="14.5" cy="12.5" rx="5" ry="8.5" fill="none" stroke="#505050" stroke-width="1.3"/></g>
<ellipse cx="14.5" cy="12" rx="4" ry="7" fill="#ffffff" opacity="0.7" filter="url(#blur1)"/>
<ellipse cx="22" cy="20" rx="3" ry="3" fill="#ffffff" opacity="0.5" filter="url(#blur1)"/>
<ellipse cx="10" cy="13" rx="1.2" ry="6" fill="#505050" opacity="0.4" filter="url(#blur05)" transform="rotate(10 10 13)"/>
<ellipse cx="19.5" cy="11" rx="1.2" ry="6" fill="#505050" opacity="0.35" filter="url(#blur05)" transform="rotate(-10 19.5 11)"/>
<ellipse cx="15" cy="25.5" rx="2.6" ry="1.8" fill="#3010d0" opacity="1" filter="url(#blur05)"/>
<ellipse cx="19" cy="20" rx="1.4" ry="1.4" fill="#5030d0" opacity="0.7" filter="url(#blur05)"/>
</g>
</g>
<clipPath id="c6"><rect x="364.10" y="129.50" width="29.60" height="25.30"/></clipPath>
<g clip-path="url(#c6)">
<defs><radialGradient id="g6" gradientUnits="userSpaceOnUse" cx="379.10" cy="142.50" r="17"><stop offset="0" stop-color="#c8c8cc"/><stop offset="0.55" stop-color="#c8c8cc"/><stop offset="1" stop-color="#929298"/></radialGradient></defs>
<rect x="364.10" y="129.50" width="29.60" height="25.30" fill="url(#g6)"/>
<rect x="364.10" y="129.50" width="29.60" height="25.30" filter="url(#txC)" opacity="0.45"/>
<g transform="translate(364.10,129.50)">
<g filter="url(#patch)" opacity="0.95"><ellipse cx="17" cy="13.5" rx="11" ry="10.5" fill="#7a2cf2" opacity="1"/></g>
<g filter="url(#rough)"><ellipse cx="14.2" cy="13" rx="9.4" ry="8.2" fill="#7a2cf2" opacity="1"/><ellipse cx="13.4" cy="12.6" rx="7.7" ry="6.4" fill="#1a14e6" opacity="1"/><ellipse cx="13.4" cy="12.6" rx="5.6" ry="4.3" fill="#22f0c0" opacity="1"/></g>
</g>
</g>
<clipPath id="c7"><rect x="398.60" y="129.50" width="29.60" height="25.30"/></clipPath>
<g clip-path="url(#c7)">
<defs><radialGradient id="g7" gradientUnits="userSpaceOnUse" cx="413.60" cy="142.50" r="17"><stop offset="0" stop-color="#c8c8cc"/><stop offset="0.55" stop-color="#c8c8cc"/><stop offset="1" stop-color="#929298"/></radialGradient></defs>
<rect x="398.60" y="129.50" width="29.60" height="25.30" fill="url(#g7)"/>
<rect x="398.60" y="129.50" width="29.60" height="25.30" filter="url(#txC)" opacity="0.45"/>
<g transform="translate(398.60,129.50)">
<g filter="url(#patch)" opacity="0.95"><ellipse cx="16" cy="12.5" rx="10" ry="9" fill="#7a2cf2" opacity="1"/></g>
<g filter="url(#rough)"><ellipse cx="15.4" cy="12.4" rx="9.2" ry="8.2" fill="#7a2cf2" opacity="1"/><ellipse cx="15.2" cy="12.6" rx="7.7" ry="6.7" fill="#1a14e6" opacity="1"/><ellipse cx="15.2" cy="12.6" rx="5.6" ry="4.6" fill="#48f028" opacity="1"/><ellipse cx="14.5" cy="23.4" rx="1.8" ry="1.6" fill="#1a14e6" opacity="1"/></g>
</g>
</g>
<clipPath id="c8"><rect x="432.80" y="129.50" width="29.60" height="25.30"/></clipPath>
<g clip-path="url(#c8)">
<defs><radialGradient id="g8" gradientUnits="userSpaceOnUse" cx="447.80" cy="142.50" r="17"><stop offset="0" stop-color="#c8c8cc"/><stop offset="0.55" stop-color="#c8c8cc"/><stop offset="1" stop-color="#929298"/></radialGradient></defs>
<rect x="432.80" y="129.50" width="29.60" height="25.30" fill="url(#g8)"/>
<rect x="432.80" y="129.50" width="29.60" height="25.30" filter="url(#txC)" opacity="0.45"/>
<g transform="translate(432.80,129.50)">
<g filter="url(#patch)" opacity="0.9"><ellipse cx="14" cy="12.8" rx="9.5" ry="9.5" fill="#7a2cf2" opacity="1"/></g>
<g filter="url(#rough)"><ellipse cx="14" cy="12.8" rx="7.5" ry="7.2" fill="#3a20f0" opacity="1"/><ellipse cx="15" cy="11" rx="2.5" ry="1.5" fill="#60b0f0" opacity="1"/><ellipse cx="12" cy="15" rx="1.8" ry="1.2" fill="#5090f0" opacity="1"/><ellipse cx="17" cy="15" rx="1.5" ry="1.5" fill="#7060f0" opacity="1"/></g>
</g>
</g>
<clipPath id="c9"><rect x="329.60" y="157.40" width="29.60" height="25.30"/></clipPath>
<g clip-path="url(#c9)">
<defs><radialGradient id="g9" gradientUnits="userSpaceOnUse" cx="344.60" cy="170.40" r="16"><stop offset="0" stop-color="#c4c4c8"/><stop offset="0.55" stop-color="#c4c4c8"/><stop offset="1" stop-color="#8c8c90"/></radialGradient></defs>
<rect x="329.60" y="157.40" width="29.60" height="25.30" fill="url(#g9)"/>
<rect x="329.60" y="157.40" width="29.60" height="25.30" filter="url(#txA)" opacity="0.6"/>
<g transform="translate(329.60,157.40)">
<g filter="url(#rough3)" opacity="0.45"><ellipse cx="15" cy="13" rx="5.5" ry="10" fill="none" stroke="#505050" stroke-width="1.3" transform="rotate(-15 15 13)"/></g>
<ellipse cx="15" cy="13" rx="4.5" ry="9" fill="#ffffff" opacity="0.75" filter="url(#blur1)" transform="rotate(-15 15 13)"/>
<ellipse cx="6" cy="20" rx="3" ry="3" fill="#ffffff" opacity="0.5" filter="url(#blur1)"/>
<ellipse cx="11" cy="14" rx="1.2" ry="7" fill="#505050" opacity="0.4" filter="url(#blur05)" transform="rotate(-5 11 14)"/>
<ellipse cx="20" cy="12" rx="1.2" ry="7" fill="#505050" opacity="0.35" filter="url(#blur05)" transform="rotate(-20 20 12)"/>
</g>
</g>
<clipPath id="c10"><rect x="364.10" y="157.40" width="29.60" height="25.30"/></clipPath>
<g clip-path="url(#c10)">
<defs><radialGradient id="g10" gradientUnits="userSpaceOnUse" cx="379.10" cy="170.40" r="17"><stop offset="0" stop-color="#c8c8cc"/><stop offset="0.55" stop-color="#c8c8cc"/><stop offset="1" stop-color="#929298"/></radialGradient></defs>
<rect x="364.10" y="157.40" width="29.60" height="25.30" fill="url(#g10)"/>
<rect x="364.10" y="157.40" width="29.60" height="25.30" filter="url(#txC)" opacity="0.45"/>
<g transform="translate(364.10,157.40)">
<g filter="url(#patch)" opacity="0.95"><ellipse cx="15" cy="13" rx="12.5" ry="12.5" fill="#7a2cf2" opacity="1"/></g>
<g filter="url(#rough)"><ellipse cx="16" cy="12.8" rx="11.2" ry="12.4" fill="#7a2cf2" opacity="1" transform="rotate(-30 16 12.8)"/><ellipse cx="16.2" cy="12.8" rx="9.6" ry="11" fill="#1a14e6" opacity="1" transform="rotate(-30 16.2 12.8)"/><ellipse cx="16.2" cy="12.8" rx="8" ry="9.4" fill="#18d8f0" opacity="1" transform="rotate(-30 16.2 12.8)"/><ellipse cx="15.8" cy="13" rx="6.4" ry="7.8" fill="#40f040" opacity="1" transform="rotate(-30 15.8 13)"/><ellipse cx="13.5" cy="15.5" rx="3.6" ry="4.6" fill="#c8f020" opacity="1" transform="rotate(-30 13.5 15.5)"/><ellipse cx="19" cy="12.5" rx="3.8" ry="5.4" fill="#18d8f0" opacity="1" transform="rotate(-30 19 12.5)"/><ellipse cx="19.4" cy="12.2" rx="2.6" ry="4.2" fill="#1a14e6" opacity="1" transform="rotate(-30 19.4 12.2)"/></g>
</g>
</g>
<clipPath id="c11"><rect x="398.60" y="157.40" width="29.60" height="25.30"/></clipPath>
<g clip-path="url(#c11)">
<defs><radialGradient id="g11" gradientUnits="userSpaceOnUse" cx="413.60" cy="170.40" r="17"><stop offset="0" stop-color="#c8c8cc"/><stop offset="0.55" stop-color="#c8c8cc"/><stop offset="1" stop-color="#929298"/></radialGradient></defs>
<rect x="398.60" y="157.40" width="29.60" height="25.30" fill="url(#g11)"/>
<rect x="398.60" y="157.40" width="29.60" height="25.30" filter="url(#txC)" opacity="0.45"/>
<g transform="translate(398.60,157.40)">
<g filter="url(#patch)" opacity="0.95"><ellipse cx="15" cy="12.6" rx="13.5" ry="13.5" fill="#7a2cf2" opacity="1"/></g>
<g filter="url(#rough)"><ellipse cx="15.2" cy="13" rx="11.8" ry="12.8" fill="#7a2cf2" opacity="1" transform="rotate(-25 15.2 13)"/><ellipse cx="15.3" cy="13.4" rx="10" ry="11" fill="#1a14e6" opacity="1" transform="rotate(-25 15.3 13.4)"/><ellipse cx="15.3" cy="13.4" rx="8.6" ry="9.6" fill="#18d0f0" opacity="1" transform="rotate(-25 15.3 13.4)"/><ellipse cx="15.3" cy="13.4" rx="7.4" ry="8.5" fill="#30f040" opacity="1" transform="rotate(-25 15.3 13.4)"/><ellipse cx="15.3" cy="13.4" rx="6.4" ry="7.5" fill="#d8f020" opacity="1" transform="rotate(-25 15.3 13.4)"/><ellipse cx="15.1" cy="13.6" rx="5.4" ry="6.5" fill="#f03010" opacity="1" transform="rotate(-25 15.1 13.6)"/><ellipse cx="17.8" cy="14" rx="3.4" ry="4.8" fill="#40f040" opacity="1" transform="rotate(-25 17.8 14)"/><ellipse cx="18.1" cy="14" rx="2.2" ry="3.6" fill="#18d0f0" opacity="1" transform="rotate(-25 18.1 14)"/></g>
</g>
</g>
<clipPath id="c12"><rect x="432.80" y="157.40" width="29.60" height="25.30"/></clipPath>
<g clip-path="url(#c12)">
<defs><radialGradient id="g12" gradientUnits="userSpaceOnUse" cx="447.80" cy="170.40" r="17"><stop offset="0" stop-color="#c8c8cc"/><stop offset="0.55" stop-color="#c8c8cc"/><stop offset="1" stop-color="#929298"/></radialGradient></defs>
<rect x="432.80" y="157.40" width="29.60" height="25.30" fill="url(#g12)"/>
<rect x="432.80" y="157.40" width="29.60" height="25.30" filter="url(#txC)" opacity="0.45"/>
<g transform="translate(432.80,157.40)">
<g filter="url(#patch)" opacity="0.95"><ellipse cx="9" cy="13" rx="7" ry="11" fill="#7a2cf2" opacity="1"/></g>
<g filter="url(#rough)"><ellipse cx="11" cy="13" rx="7.5" ry="10.5" fill="#7a2cf2" opacity="1" transform="rotate(-10 11 13)"/><ellipse cx="15.6" cy="13" rx="9.4" ry="10.4" fill="#1a14e6" opacity="1" transform="rotate(-25 15.6 13)"/><ellipse cx="15.6" cy="13" rx="8" ry="9" fill="#18d0f0" opacity="1" transform="rotate(-25 15.6 13)"/><ellipse cx="15.4" cy="13" rx="6.8" ry="7.8" fill="#30f040" opacity="1" transform="rotate(-25 15.4 13)"/><ellipse cx="15" cy="12.8" rx="5.4" ry="6.4" fill="#d8f020" opacity="1" transform="rotate(-25 15 12.8)"/><ellipse cx="12.5" cy="16" rx="1.6" ry="2.2" fill="#f05010" opacity="1" transform="rotate(-25 12.5 16)"/><ellipse cx="14.5" cy="11.5" rx="1.8" ry="1.4" fill="#f05010" opacity="1"/><ellipse cx="19.5" cy="10.2" rx="1.6" ry="2.4" fill="#f05010" opacity="1" transform="rotate(-25 19.5 10.2)"/><ellipse cx="18.8" cy="16" rx="2.6" ry="3.6" fill="#18d0f0" opacity="1" transform="rotate(-25 18.8 16)"/><ellipse cx="19.2" cy="16.4" rx="1.4" ry="2.4" fill="#1a14e6" opacity="1" transform="rotate(-25 19.2 16.4)"/></g>
</g>
</g>
<clipPath id="c13"><rect x="466.60" y="157.40" width="29.60" height="25.30"/></clipPath>
<g clip-path="url(#c13)">
<defs><radialGradient id="g13" gradientUnits="userSpaceOnUse" cx="481.60" cy="170.40" r="17"><stop offset="0" stop-color="#c8c8cc"/><stop offset="0.55" stop-color="#c8c8cc"/><stop offset="1" stop-color="#929298"/></radialGradient></defs>
<rect x="466.60" y="157.40" width="29.60" height="25.30" fill="url(#g13)"/>
<rect x="466.60" y="157.40" width="29.60" height="25.30" filter="url(#txC)" opacity="0.45"/>
<g transform="translate(466.60,157.40)">
<ellipse cx="15.5" cy="13" rx="9" ry="11" fill="#e8e4f4" opacity="0.6" filter="url(#blur1)"/>
<g filter="url(#rough)"><ellipse cx="16.3" cy="13" rx="6.6" ry="9" fill="#1a14e6" opacity="1" transform="rotate(15 16.3 13)"/><ellipse cx="16.3" cy="13" rx="5.2" ry="7.6" fill="#20e0e0" opacity="1" transform="rotate(15 16.3 13)"/><ellipse cx="16.5" cy="12.5" rx="3.8" ry="5.8" fill="#50f040" opacity="1" transform="rotate(15 16.5 12.5)"/><ellipse cx="16" cy="15.8" rx="1.4" ry="2" fill="#1a14e6" opacity="1"/><ellipse cx="17.5" cy="9.5" rx="1.8" ry="1.6" fill="#20e0e0" opacity="1"/></g>
</g>
</g>
<rect x="502" y="92.7" width="7.6" height="91.8" fill="url(#cbB)" stroke="#555" stroke-width="0.5"/>
<path d="M509.6,94.3 h1.6" stroke="#333" stroke-width="0.6"/>
<path d="M509.6,106.7 h1.6" stroke="#333" stroke-width="0.6"/>
<path d="M509.6,119.1 h1.6" stroke="#333" stroke-width="0.6"/>
<path d="M509.6,129.5 h1.6" stroke="#333" stroke-width="0.6"/>
<path d="M509.6,140 h1.6" stroke="#333" stroke-width="0.6"/>
<path d="M509.6,152 h1.6" stroke="#333" stroke-width="0.6"/>
<path d="M509.6,164 h1.6" stroke="#333" stroke-width="0.6"/>
<path d="M509.6,176 h1.6" stroke="#333" stroke-width="0.6"/>
<text x="513.60" y="97.40" font-size="8.8" font-weight="normal" text-anchor="start" fill="#141414" >8</text>
<text x="513.60" y="122.20" font-size="8.8" font-weight="normal" text-anchor="start" fill="#141414" >6</text>
<text x="513.60" y="143.10" font-size="8.8" font-weight="normal" text-anchor="start" fill="#141414" >4</text>
<text x="513.60" y="167.10" font-size="8.8" font-weight="normal" text-anchor="start" fill="#141414" >2</text>
<text x="498.6" y="87.0" font-size="8.6" font-weight="bold" fill="#141414"><tspan textLength="11.6" lengthAdjust="spacingAndGlyphs">x10</tspan><tspan dy="-3.6" font-size="5.6">8</tspan></text>
<text x="342.40" y="195.60" font-size="10.3" font-weight="bold" text-anchor="middle" fill="#141414" >0</text>
<text x="377.40" y="195.60" font-size="10.3" font-weight="bold" text-anchor="middle" fill="#141414" >2</text>
<text x="411.70" y="195.60" font-size="10.3" font-weight="bold" text-anchor="middle" fill="#141414" >5</text>
<text x="445.00" y="195.60" font-size="10.3" font-weight="bold" text-anchor="middle" fill="#141414" >10</text>
<text x="482.00" y="195.60" font-size="10.3" font-weight="bold" text-anchor="middle" fill="#141414" >14</text>
<text x="354.80" y="211.70" font-size="11" font-weight="bold" text-anchor="start" fill="#141414" textLength="110" lengthAdjust="spacing">Days post wounding</text>
<text x="314.8" y="336.0" font-size="11" textLength="147" lengthAdjust="spacing" font-weight="bold" fill="#141414"><tspan font-style="italic">S. aureus</tspan> bioluminescence</text>
<text x="253.60" y="361.00" font-size="10.8" font-weight="bold" text-anchor="start" fill="#141414" textLength="62.8" lengthAdjust="spacing">SA 2e6 CFU</text>
<text x="252.60" y="391.00" font-size="10.8" font-weight="bold" text-anchor="start" fill="#141414" textLength="63.0" lengthAdjust="spacing">SA 1e7 CFU</text>
<clipPath id="c14"><rect x="320.30" y="343.20" width="29.80" height="25.20"/></clipPath>
<g clip-path="url(#c14)">
<defs><radialGradient id="g14" gradientUnits="userSpaceOnUse" cx="335.30" cy="355.20" r="16"><stop offset="0" stop-color="#d8d8e2"/><stop offset="0.55" stop-color="#d8d8e2"/><stop offset="1" stop-color="#9a9aa8"/></radialGradient></defs>
<rect x="320.30" y="343.20" width="29.80" height="25.20" fill="url(#g14)"/>
<rect x="320.30" y="343.20" width="29.80" height="25.20" filter="url(#txA)" opacity="0.5"/>
<g transform="translate(320.30,343.20)">
<g filter="url(#rough2)"><ellipse cx="14.8" cy="11.6" rx="5.8" ry="5.6" fill="#faee10" opacity="1"/><ellipse cx="15.4" cy="11" rx="3.6" ry="3.2" fill="#f07000" opacity="1"/><ellipse cx="15.5" cy="11" rx="2.8" ry="2.5" fill="#e03008" opacity="1"/><ellipse cx="15.6" cy="10.8" rx="1.3" ry="1.1" fill="#800000" opacity="1"/></g>
</g>
</g>
<clipPath id="c15"><rect x="354.20" y="343.20" width="29.80" height="25.20"/></clipPath>
<g clip-path="url(#c15)">
<defs><radialGradient id="g15" gradientUnits="userSpaceOnUse" cx="368.20" cy="356.20" r="17"><stop offset="0" stop-color="#f2f2f8"/><stop offset="0.55" stop-color="#f2f2f8"/><stop offset="1" stop-color="#b0b0bc"/></radialGradient></defs>
<rect x="354.20" y="343.20" width="29.80" height="25.20" fill="url(#g15)"/>
<rect x="354.20" y="343.20" width="29.80" height="25.20" filter="url(#txC)" opacity="0.3"/>
<g transform="translate(354.20,343.20)">
<g filter="url(#rough2)"><ellipse cx="13.8" cy="12.6" rx="7.8" ry="6.8" fill="#faee10" opacity="1"/><ellipse cx="15.4" cy="11.2" rx="4.6" ry="4.4" fill="#f07000" opacity="1"/><ellipse cx="15.5" cy="11" rx="3.8" ry="3.8" fill="#e03008" opacity="1"/><ellipse cx="16" cy="10.6" rx="2.2" ry="2.3" fill="#700000" opacity="1"/></g>
</g>
</g>
<clipPath id="c16"><rect x="388.10" y="343.20" width="29.80" height="25.20"/></clipPath>
<g clip-path="url(#c16)">
<defs><radialGradient id="g16" gradientUnits="userSpaceOnUse" cx="402.60" cy="356.20" r="17"><stop offset="0" stop-color="#eeeef6"/><stop offset="0.55" stop-color="#eeeef6"/><stop offset="1" stop-color="#a8a8b4"/></radialGradient></defs>
<rect x="388.10" y="343.20" width="29.80" height="25.20" fill="url(#g16)"/>
<rect x="388.10" y="343.20" width="29.80" height="25.20" filter="url(#txC)" opacity="0.3"/>
<g transform="translate(388.10,343.20)">
<g filter="url(#rough2)"><ellipse cx="14.7" cy="12.6" rx="7" ry="6.8" fill="#faee10" opacity="1"/><ellipse cx="15.8" cy="10.8" rx="4" ry="3.6" fill="#f07000" opacity="1"/><ellipse cx="15.8" cy="10.8" rx="3.2" ry="3" fill="#e03008" opacity="1"/><ellipse cx="16" cy="10.5" rx="1.5" ry="1.4" fill="#800000" opacity="1"/></g>
</g>
</g>
<clipPath id="c17"><rect x="423.00" y="343.20" width="29.80" height="25.20"/></clipPath>
<g clip-path="url(#c17)">
<defs><radialGradient id="g17" gradientUnits="userSpaceOnUse" cx="438.00" cy="356.20" r="17"><stop offset="0" stop-color="#f8f8fa"/><stop offset="0.55" stop-color="#f8f8fa"/><stop offset="1" stop-color="#b0b0b8"/></radialGradient></defs>
<rect x="423.00" y="343.20" width="29.80" height="25.20" fill="url(#g17)"/>
<rect x="423.00" y="343.20" width="29.80" height="25.20" filter="url(#txC)" opacity="0.3"/>
<g transform="translate(423.00,343.20)">
<ellipse cx="15" cy="12" rx="6" ry="5" fill="#ffffff" opacity="0.7" filter="url(#blur1)"/>
<g filter="url(#rough3)" opacity="0.4"><ellipse cx="15" cy="13" rx="5" ry="4" fill="none" stroke="#707070" stroke-width="1.2"/></g>
</g>
</g>
<clipPath id="c18"><rect x="320.30" y="370.40" width="29.80" height="25.20"/></clipPath>
<g clip-path="url(#c18)">
<defs><radialGradient id="g18" gradientUnits="userSpaceOnUse" cx="335.30" cy="382.40" r="16"><stop offset="0" stop-color="#d4d4de"/><stop offset="0.55" stop-color="#d4d4de"/><stop offset="1" stop-color="#9898a6"/></radialGradient></defs>
<rect x="320.30" y="370.40" width="29.80" height="25.20" fill="url(#g18)"/>
<rect x="320.30" y="370.40" width="29.80" height="25.20" filter="url(#txA)" opacity="0.5"/>
<g transform="translate(320.30,370.40)">
<g filter="url(#rough2)"><ellipse cx="15.8" cy="12" rx="6.8" ry="6.8" fill="#faee10" opacity="1"/><ellipse cx="16.3" cy="11.2" rx="3.8" ry="4.2" fill="#f07000" opacity="1"/><ellipse cx="16.3" cy="11.2" rx="3" ry="3.5" fill="#e03008" opacity="1"/><ellipse cx="16.4" cy="11" rx="1.4" ry="1.8" fill="#800000" opacity="1"/></g>
</g>
</g>
<clipPath id="c19"><rect x="354.20" y="370.40" width="29.80" height="25.20"/></clipPath>
<g clip-path="url(#c19)">
<defs><radialGradient id="g19" gradientUnits="userSpaceOnUse" cx="369.20" cy="382.90" r="17"><stop offset="0" stop-color="#e6e6ee"/><stop offset="0.55" stop-color="#e6e6ee"/><stop offset="1" stop-color="#a4a4b0"/></radialGradient></defs>
<rect x="354.20" y="370.40" width="29.80" height="25.20" fill="url(#g19)"/>
<rect x="354.20" y="370.40" width="29.80" height="25.20" filter="url(#txC)" opacity="0.3"/>
<g transform="translate(354.20,370.40)">
<g filter="url(#rough2)"><ellipse cx="15.2" cy="12.6" rx="11.5" ry="9.8" fill="#faee10" opacity="1"/><ellipse cx="15.8" cy="12.3" rx="8.6" ry="7.2" fill="#f08000" opacity="1"/><ellipse cx="15.8" cy="12.3" rx="7.6" ry="6.2" fill="#e03000" opacity="1"/><ellipse cx="13.8" cy="12" rx="3.6" ry="3.4" fill="#700000" opacity="1"/><ellipse cx="19.2" cy="10" rx="2" ry="2" fill="#700000" opacity="1"/><ellipse cx="16.5" cy="12.5" rx="1.5" ry="1.5" fill="#900000" opacity="1"/><ellipse cx="18" cy="15.5" rx="2.5" ry="1" fill="#f0a000" opacity="1"/></g>
</g>
</g>
<clipPath id="c20"><rect x="388.10" y="370.40" width="29.80" height="25.20"/></clipPath>
<g clip-path="url(#c20)">
<defs><radialGradient id="g20" gradientUnits="userSpaceOnUse" cx="402.60" cy="383.40" r="17"><stop offset="0" stop-color="#e4e4ec"/><stop offset="0.55" stop-color="#e4e4ec"/><stop offset="1" stop-color="#a2a2ae"/></radialGradient></defs>
<rect x="388.10" y="370.40" width="29.80" height="25.20" fill="url(#g20)"/>
<rect x="388.10" y="370.40" width="29.80" height="25.20" filter="url(#txC)" opacity="0.3"/>
<g transform="translate(388.10,370.40)">
<g filter="url(#rough2)"><ellipse cx="14.2" cy="13.6" rx="11" ry="9.8" fill="#faee10" opacity="1" transform="rotate(-15 14.2 13.6)"/><ellipse cx="16.2" cy="12.7" rx="7.8" ry="7" fill="#f08000" opacity="1"/><ellipse cx="16.2" cy="12.7" rx="6.8" ry="6.1" fill="#e03000" opacity="1"/><ellipse cx="15.5" cy="11.3" rx="3.2" ry="3" fill="#700000" opacity="1"/><ellipse cx="19.3" cy="11" rx="2" ry="1.8" fill="#700000" opacity="1"/><ellipse cx="13" cy="14.5" rx="1.4" ry="1.4" fill="#900000" opacity="1"/></g>
</g>
</g>
<clipPath id="c21"><rect x="423.00" y="370.40" width="29.80" height="25.20"/></clipPath>
<g clip-path="url(#c21)">
<defs><radialGradient id="g21" gradientUnits="userSpaceOnUse" cx="437.00" cy="384.40" r="17"><stop offset="0" stop-color="#eaeaf0"/><stop offset="0.55" stop-color="#eaeaf0"/><stop offset="1" stop-color="#a4a4ae"/></radialGradient></defs>
<rect x="423.00" y="370.40" width="29.80" height="25.20" fill="url(#g21)"/>
<rect x="423.00" y="370.40" width="29.80" height="25.20" filter="url(#txC)" opacity="0.3"/>
<g transform="translate(423.00,370.40)">
<g filter="url(#rough3)" opacity="0.35"><ellipse cx="14" cy="12" rx="8" ry="8" fill="none" stroke="#808080" stroke-width="1.2"/></g>
<g filter="url(#rough2)"><ellipse cx="14" cy="15.3" rx="6.2" ry="4.6" fill="#faee10" opacity="1"/><ellipse cx="15.5" cy="14.5" rx="1.6" ry="1.2" fill="#e03008" opacity="1"/></g>
</g>
</g>
<clipPath id="c22"><rect x="456.60" y="370.40" width="29.80" height="25.20"/></clipPath>
<g clip-path="url(#c22)">
<defs><radialGradient id="g22" gradientUnits="userSpaceOnUse" cx="471.60" cy="383.40" r="17"><stop offset="0" stop-color="#ececf0"/><stop offset="0.55" stop-color="#ececf0"/><stop offset="1" stop-color="#a0a0a8"/></radialGradient></defs>
<rect x="456.60" y="370.40" width="29.80" height="25.20" fill="url(#g22)"/>
<rect x="456.60" y="370.40" width="29.80" height="25.20" filter="url(#txC)" opacity="0.3"/>
<g transform="translate(456.60,370.40)">
<ellipse cx="15" cy="12" rx="5" ry="5" fill="#ffffff" opacity="0.7" filter="url(#blur1)"/>
<g filter="url(#rough3)" opacity="0.4"><ellipse cx="16" cy="13" rx="4" ry="3.5" fill="none" stroke="#707070" stroke-width="1.0"/></g>
</g>
</g>
<rect x="492.2" y="334.5" width="7.2" height="60.8" fill="url(#cbD)" stroke="#555" stroke-width="0.5"/>
<path d="M499.4,338.2 h2" stroke="#333" stroke-width="0.7"/>
<text x="505.60" y="341.20" font-size="8.5" font-weight="normal" text-anchor="start" fill="#141414" >3</text>
<path d="M499.4,358 h2" stroke="#333" stroke-width="0.7"/>
<text x="505.60" y="361.00" font-size="8.5" font-weight="normal" text-anchor="start" fill="#141414" >2</text>
<path d="M499.4,378.6 h2" stroke="#333" stroke-width="0.7"/>
<text x="505.60" y="381.60" font-size="8.5" font-weight="normal" text-anchor="start" fill="#141414" >1</text>
<text x="490.8" y="331.4" font-size="8.6" font-weight="bold" fill="#141414"><tspan textLength="11.6" lengthAdjust="spacingAndGlyphs">x10</tspan><tspan dy="-3.6" font-size="5.6">6</tspan></text>
<path d="M499.4,348.1 h1.6" stroke="#555" stroke-width="0.6"/>
<path d="M499.4,368.3 h1.6" stroke="#555" stroke-width="0.6"/>
<path d="M499.4,388.9 h1.6" stroke="#555" stroke-width="0.6"/>
<text x="333.70" y="409.70" font-size="10.3" font-weight="bold" text-anchor="middle" fill="#141414" >0</text>
<text x="368.00" y="409.70" font-size="10.3" font-weight="bold" text-anchor="middle" fill="#141414" >2</text>
<text x="402.40" y="409.70" font-size="10.3" font-weight="bold" text-anchor="middle" fill="#141414" >5</text>
<text x="436.20" y="409.70" font-size="10.3" font-weight="bold" text-anchor="middle" fill="#141414" >10</text>
<text x="472.60" y="409.70" font-size="10.3" font-weight="bold" text-anchor="middle" fill="#141414" >14</text>
<text x="345.80" y="425.00" font-size="11" font-weight="bold" text-anchor="start" fill="#141414" textLength="110.5" lengthAdjust="spacing">Days post wounding</text>
<text x="357.40" y="546.00" font-size="11" font-weight="bold" text-anchor="start" fill="#141414" textLength="63.8" lengthAdjust="spacing">Wound size</text>
<text x="290.80" y="567.80" font-size="10.8" font-weight="bold" text-anchor="start" fill="#141414" textLength="31.5" lengthAdjust="spacing">Saline</text>
<text x="261.20" y="594.70" font-size="10.8" font-weight="bold" text-anchor="start" fill="#141414" textLength="62.4" lengthAdjust="spacing">SA 2e6 CFU</text>
<text x="259.50" y="624.30" font-size="10.8" font-weight="bold" text-anchor="start" fill="#141414" textLength="63.3" lengthAdjust="spacing">SA 1e7 CFU</text>
<clipPath id="c23"><rect x="328.10" y="549.60" width="30.80" height="26.40"/></clipPath>
<g clip-path="url(#c23)">
<defs><radialGradient id="g23" gradientUnits="userSpaceOnUse" cx="343.10" cy="562.60" r="17"><stop offset="0" stop-color="#c4c4ca"/><stop offset="0.55" stop-color="#c4c4ca"/><stop offset="1" stop-color="#8c8c94"/></radialGradient></defs>
<rect x="328.10" y="549.60" width="30.80" height="26.40" fill="url(#g23)"/>
<rect x="328.10" y="549.60" width="30.80" height="26.40" filter="url(#txA)" opacity="0.55"/>
<g transform="translate(328.10,549.60)">
<ellipse cx="22" cy="6" rx="3" ry="2" fill="#ffffff" opacity="0.7" filter="url(#blur1)"/>
<ellipse cx="5" cy="20" rx="3" ry="3" fill="#ffffff" opacity="0.6" filter="url(#blur1)"/>
<g filter="url(#rough4)"><ellipse cx="15.5" cy="12.5" rx="5" ry="8.5" fill="#e8e8ee" opacity="0.5"/><ellipse cx="15.5" cy="12.5" rx="5" ry="8.5" fill="none" stroke="#4a4a4e" stroke-width="1.4" stroke-dasharray="9 2 5 3" opacity="0.55"/></g>
<ellipse cx="16" cy="12" rx="2" ry="5" fill="#ffffff" opacity="0.6" filter="url(#blur1)"/>
</g>
</g>
<clipPath id="c24"><rect x="363.40" y="549.60" width="30.80" height="26.40"/></clipPath>
<g clip-path="url(#c24)">
<defs><radialGradient id="g24" gradientUnits="userSpaceOnUse" cx="378.40" cy="562.60" r="17"><stop offset="0" stop-color="#dcdce2"/><stop offset="0.55" stop-color="#dcdce2"/><stop offset="1" stop-color="#9a9aa4"/></radialGradient></defs>
<rect x="363.40" y="549.60" width="30.80" height="26.40" fill="url(#g24)"/>
<rect x="363.40" y="549.60" width="30.80" height="26.40" filter="url(#txC)" opacity="0.35"/>
<g transform="translate(363.40,549.60)">
<ellipse cx="9" cy="8" rx="3" ry="2" fill="#ffffff" opacity="0.7" filter="url(#blur1)"/>
<ellipse cx="24" cy="20" rx="3" ry="3" fill="#ffffff" opacity="0.6" filter="url(#blur1)"/>
<g filter="url(#rough4)"><ellipse cx="15" cy="12.5" rx="8.5" ry="8" fill="#f0f0f4" opacity="0.5"/><ellipse cx="15" cy="12.5" rx="8.5" ry="8" fill="none" stroke="#606066" stroke-width="1.6" stroke-dasharray="9 2 5 3" opacity="0.55"/></g>
</g>
</g>
<clipPath id="c25"><rect x="399.40" y="549.60" width="30.80" height="26.40"/></clipPath>
<g clip-path="url(#c25)">
<defs><radialGradient id="g25" gradientUnits="userSpaceOnUse" cx="414.40" cy="562.60" r="17"><stop offset="0" stop-color="#e0e0e6"/><stop offset="0.55" stop-color="#e0e0e6"/><stop offset="1" stop-color="#a0a0aa"/></radialGradient></defs>
<rect x="399.40" y="549.60" width="30.80" height="26.40" fill="url(#g25)"/>
<rect x="399.40" y="549.60" width="30.80" height="26.40" filter="url(#txC)" opacity="0.35"/>
<g transform="translate(399.40,549.60)">
<ellipse cx="21" cy="16" rx="3" ry="3" fill="#ffffff" opacity="0.6" filter="url(#blur1)"/>
<ellipse cx="6" cy="6" rx="4" ry="3" fill="#ffffff" opacity="0.7" filter="url(#blur1)"/>
<g filter="url(#rough4)"><ellipse cx="15" cy="13" rx="9" ry="8.5" fill="#f4f4f8" opacity="0.6"/><ellipse cx="15" cy="13" rx="9" ry="8.5" fill="none" stroke="#6a6a70" stroke-width="1.5" stroke-dasharray="9 2 5 3" opacity="0.5"/></g>
</g>
</g>
<clipPath id="c26"><rect x="435.20" y="549.60" width="30.80" height="26.40"/></clipPath>
<g clip-path="url(#c26)">
<defs><radialGradient id="g26" gradientUnits="userSpaceOnUse" cx="450.20" cy="562.60" r="16"><stop offset="0" stop-color="#a4ac9c"/><stop offset="0.55" stop-color="#a4ac9c"/><stop offset="1" stop-color="#7a8274"/></radialGradient></defs>
<rect x="435.20" y="549.60" width="30.80" height="26.40" fill="url(#g26)"/>
<rect x="435.20" y="549.60" width="30.80" height="26.40" filter="url(#txC)" opacity="0.35"/>
<g transform="translate(435.20,549.60)">
<ellipse cx="15.5" cy="13" rx="7" ry="6" fill="#ffffff" opacity="0.3" filter="url(#blur1)"/>
<ellipse cx="14.5" cy="12" rx="3.5" ry="2.3" fill="#1a1a1a" opacity="0.95" filter="url(#blur05)" transform="rotate(-30 14.5 12)"/>
<ellipse cx="16.5" cy="15" rx="3.2" ry="1.5" fill="#ffffff" opacity="0.95" filter="url(#blur05)" transform="rotate(-20 16.5 15)"/>
</g>
</g>
<clipPath id="c27"><rect x="328.10" y="578.60" width="30.80" height="26.40"/></clipPath>
<g clip-path="url(#c27)">
<defs><radialGradient id="g27" gradientUnits="userSpaceOnUse" cx="342.10" cy="591.60" r="17"><stop offset="0" stop-color="#d0d0d6"/><stop offset="0.55" stop-color="#d0d0d6"/><stop offset="1" stop-color="#9a9aa2"/></radialGradient></defs>
<rect x="328.10" y="578.60" width="30.80" height="26.40" fill="url(#g27)"/>
<rect x="328.10" y="578.60" width="30.80" height="26.40" filter="url(#txA)" opacity="0.55"/>
<g transform="translate(328.10,578.60)">
<ellipse cx="6" cy="6" rx="3" ry="3" fill="#ffffff" opacity="0.7" filter="url(#blur1)"/>
<ellipse cx="24" cy="20" rx="3" ry="3" fill="#ffffff" opacity="0.6" filter="url(#blur1)"/>
<g filter="url(#rough4)"><ellipse cx="14" cy="13" rx="8" ry="8" fill="#ececf2" opacity="0.6"/><ellipse cx="14" cy="13" rx="8" ry="8" fill="none" stroke="#6a6a70" stroke-width="1.4" stroke-dasharray="9 2 5 3" opacity="0.45"/></g>
</g>
</g>
<clipPath id="c28"><rect x="363.40" y="578.60" width="30.80" height="26.40"/></clipPath>
<g clip-path="url(#c28)">
<defs><radialGradient id="g28" gradientUnits="userSpaceOnUse" cx="378.40" cy="591.60" r="17"><stop offset="0" stop-color="#eeeef4"/><stop offset="0.55" stop-color="#eeeef4"/><stop offset="1" stop-color="#b4b4c0"/></radialGradient></defs>
<rect x="363.40" y="578.60" width="30.80" height="26.40" fill="url(#g28)"/>
<rect x="363.40" y="578.60" width="30.80" height="26.40" filter="url(#txC)" opacity="0.35"/>
<g transform="translate(363.40,578.60)">
<g filter="url(#rough4)"><ellipse cx="15" cy="13" rx="7" ry="7" fill="#ffffff" opacity="0.7"/><ellipse cx="15" cy="13" rx="7" ry="7" fill="none" stroke="#8a8a90" stroke-width="1.6" stroke-dasharray="9 2 5 3" opacity="0.5"/></g>
<ellipse cx="15" cy="13" rx="4" ry="4" fill="#ffffff" opacity="0.6" filter="url(#blur1)"/>
</g>
</g>
<clipPath id="c29"><rect x="399.40" y="578.60" width="30.80" height="26.40"/></clipPath>
<g clip-path="url(#c29)">
<defs><radialGradient id="g29" gradientUnits="userSpaceOnUse" cx="414.40" cy="591.60" r="17"><stop offset="0" stop-color="#e8e8ee"/><stop offset="0.55" stop-color="#e8e8ee"/><stop offset="1" stop-color="#acacb8"/></radialGradient></defs>
<rect x="399.40" y="578.60" width="30.80" height="26.40" fill="url(#g29)"/>
<rect x="399.40" y="578.60" width="30.80" height="26.40" filter="url(#txC)" opacity="0.35"/>
<g transform="translate(399.40,578.60)">
<g filter="url(#rough4)"><ellipse cx="15" cy="13.5" rx="7.5" ry="7.5" fill="#f8f8fc" opacity="0.65"/><ellipse cx="15" cy="13.5" rx="7.5" ry="7.5" fill="none" stroke="#606066" stroke-width="2" stroke-dasharray="9 2 5 3" opacity="0.6"/></g>
<ellipse cx="15" cy="14" rx="3.5" ry="3.5" fill="#ffffff" opacity="0.6" filter="url(#blur1)"/>
</g>
</g>
<clipPath id="c30"><rect x="435.20" y="578.60" width="30.80" height="26.40"/></clipPath>
<g clip-path="url(#c30)">
<defs><radialGradient id="g30" gradientUnits="userSpaceOnUse" cx="450.20" cy="591.60" r="17"><stop offset="0" stop-color="#e6e6ec"/><stop offset="0.55" stop-color="#e6e6ec"/><stop offset="1" stop-color="#a8a8b2"/></radialGradient></defs>
<rect x="435.20" y="578.60" width="30.80" height="26.40" fill="url(#g30)"/>
<rect x="435.20" y="578.60" width="30.80" height="26.40" filter="url(#txC)" opacity="0.35"/>
<g transform="translate(435.20,578.60)">
<ellipse cx="15" cy="13" rx="8" ry="7" fill="#ffffff" opacity="0.6" filter="url(#blur1)"/>
<ellipse cx="17" cy="14" rx="1.4" ry="3.2" fill="#505050" opacity="0.75" filter="url(#blur05)"/>
</g>
</g>
<clipPath id="c31"><rect x="328.10" y="607.50" width="30.80" height="26.40"/></clipPath>
<g clip-path="url(#c31)">
<defs><radialGradient id="g31" gradientUnits="userSpaceOnUse" cx="342.10" cy="620.50" r="17"><stop offset="0" stop-color="#c0c0c4"/><stop offset="0.55" stop-color="#c0c0c4"/><stop offset="1" stop-color="#8a8a8e"/></radialGradient></defs>
<rect x="328.10" y="607.50" width="30.80" height="26.40" fill="url(#g31)"/>
<rect x="328.10" y="607.50" width="30.80" height="26.40" filter="url(#txA)" opacity="0.55"/>
<g transform="translate(328.10,607.50)">
<ellipse cx="7" cy="6" rx="3" ry="2" fill="#ffffff" opacity="0.6" filter="url(#blur1)"/>
<ellipse cx="24" cy="22" rx="3" ry="3" fill="#ffffff" opacity="0.6" filter="url(#blur1)"/>
<g filter="url(#rough4)"><ellipse cx="14" cy="13" rx="4.5" ry="10" fill="#f4f4f8" opacity="0.75" transform="rotate(-20 14 13)"/><ellipse cx="14" cy="13" rx="4.5" ry="10" fill="none" stroke="#606060" stroke-width="1.3" stroke-dasharray="9 2 5 3" opacity="0.5" transform="rotate(-20 14 13)"/></g>
</g>
</g>
<clipPath id="c32"><rect x="363.40" y="607.50" width="30.80" height="26.40"/></clipPath>
<g clip-path="url(#c32)">
<defs><radialGradient id="g32" gradientUnits="userSpaceOnUse" cx="378.40" cy="622.50" r="17"><stop offset="0" stop-color="#c4c6be"/><stop offset="0.55" stop-color="#c4c6be"/><stop offset="1" stop-color="#868a80"/></radialGradient></defs>
<rect x="363.40" y="607.50" width="30.80" height="26.40" fill="url(#g32)"/>
<rect x="363.40" y="607.50" width="30.80" height="26.40" filter="url(#txC)" opacity="0.35"/>
<g transform="translate(363.40,607.50)">
<g filter="url(#rough4)"><ellipse cx="15" cy="15" rx="8.5" ry="9" fill="#dcdce0" opacity="0.55"/><ellipse cx="15" cy="15" rx="8.5" ry="9" fill="none" stroke="#505050" stroke-width="1.6" stroke-dasharray="9 2 5 3" opacity="0.55"/></g>
<ellipse cx="15" cy="17" rx="1.5" ry="1.5" fill="#303030" opacity="0.8" filter="url(#blur05)"/>
</g>
</g>
<clipPath id="c33"><rect x="399.40" y="607.50" width="30.80" height="26.40"/></clipPath>
<g clip-path="url(#c33)">
<defs><radialGradient id="g33" gradientUnits="userSpaceOnUse" cx="413.40" cy="621.50" r="17"><stop offset="0" stop-color="#c8cac2"/><stop offset="0.55" stop-color="#c8cac2"/><stop offset="1" stop-color="#8a8e84"/></radialGradient></defs>
<rect x="399.40" y="607.50" width="30.80" height="26.40" fill="url(#g33)"/>
<rect x="399.40" y="607.50" width="30.80" height="26.40" filter="url(#txC)" opacity="0.35"/>
<g transform="translate(399.40,607.50)">
<g filter="url(#rough4)"><ellipse cx="14" cy="14" rx="8" ry="8.5" fill="#e0e0e4" opacity="0.55"/><ellipse cx="14" cy="14" rx="8" ry="8.5" fill="none" stroke="#505050" stroke-width="1.6" stroke-dasharray="9 2 5 3" opacity="0.55"/></g>
<ellipse cx="13" cy="15" rx="2" ry="3" fill="#ffffff" opacity="0.6" filter="url(#blur05)"/>
</g>
</g>
<clipPath id="c34"><rect x="435.20" y="607.50" width="30.80" height="26.40"/></clipPath>
<g clip-path="url(#c34)">
<defs><radialGradient id="g34" gradientUnits="userSpaceOnUse" cx="449.20" cy="621.50" r="17"><stop offset="0" stop-color="#c4c4be"/><stop offset="0.55" stop-color="#c4c4be"/><stop offset="1" stop-color="#888a82"/></radialGradient></defs>
<rect x="435.20" y="607.50" width="30.80" height="26.40" fill="url(#g34)"/>
<rect x="435.20" y="607.50" width="30.80" height="26.40" filter="url(#txC)" opacity="0.35"/>
<g transform="translate(435.20,607.50)">
<ellipse cx="11" cy="15" rx="3" ry="5" fill="#ffffff" opacity="0.85" filter="url(#blur1)"/>
<g filter="url(#rough4)"><ellipse cx="15" cy="13.5" rx="7" ry="8" fill="#dcdce0" opacity="0.45"/><ellipse cx="15" cy="13.5" rx="7" ry="8" fill="none" stroke="#4a4a4a" stroke-width="1.5" stroke-dasharray="9 2 5 3" opacity="0.55"/></g>
<ellipse cx="15.5" cy="17" rx="2" ry="2" fill="#101010" opacity="0.9" filter="url(#blur05)"/>
</g>
</g>
<clipPath id="c35"><rect x="471.00" y="607.50" width="30.80" height="26.40"/></clipPath>
<g clip-path="url(#c35)">
<defs><radialGradient id="g35" gradientUnits="userSpaceOnUse" cx="485.00" cy="620.50" r="17"><stop offset="0" stop-color="#bcc0b6"/><stop offset="0.55" stop-color="#bcc0b6"/><stop offset="1" stop-color="#8a8e84"/></radialGradient></defs>
<rect x="471.00" y="607.50" width="30.80" height="26.40" fill="url(#g35)"/>
<rect x="471.00" y="607.50" width="30.80" height="26.40" filter="url(#txC)" opacity="0.35"/>
<g transform="translate(471.00,607.50)">
<g filter="url(#rough4)"><ellipse cx="14" cy="13" rx="6.5" ry="8.5" fill="#d8d8dc" opacity="0.45"/><ellipse cx="14" cy="13" rx="6.5" ry="8.5" fill="none" stroke="#404040" stroke-width="1.6" stroke-dasharray="9 2 5 3" opacity="0.55"/></g>
<ellipse cx="13" cy="19.5" rx="1.7" ry="1.7" fill="#ffffff" opacity="0.95" filter="url(#blur05)"/>
</g>
</g>
<text x="345.80" y="645.50" font-size="10.3" font-weight="bold" text-anchor="middle" fill="#141414" >0</text>
<text x="379.70" y="645.50" font-size="10.3" font-weight="bold" text-anchor="middle" fill="#141414" >2</text>
<text x="414.30" y="645.50" font-size="10.3" font-weight="bold" text-anchor="middle" fill="#141414" >5</text>
<text x="448.90" y="645.50" font-size="10.3" font-weight="bold" text-anchor="middle" fill="#141414" >10</text>
<text x="484.90" y="645.50" font-size="10.3" font-weight="bold" text-anchor="middle" fill="#141414" >14</text>
<text x="355.80" y="664.50" font-size="11" font-weight="bold" text-anchor="start" fill="#141414" textLength="110.8" lengthAdjust="spacing">Days post wounding</text>
</svg></body></html>
